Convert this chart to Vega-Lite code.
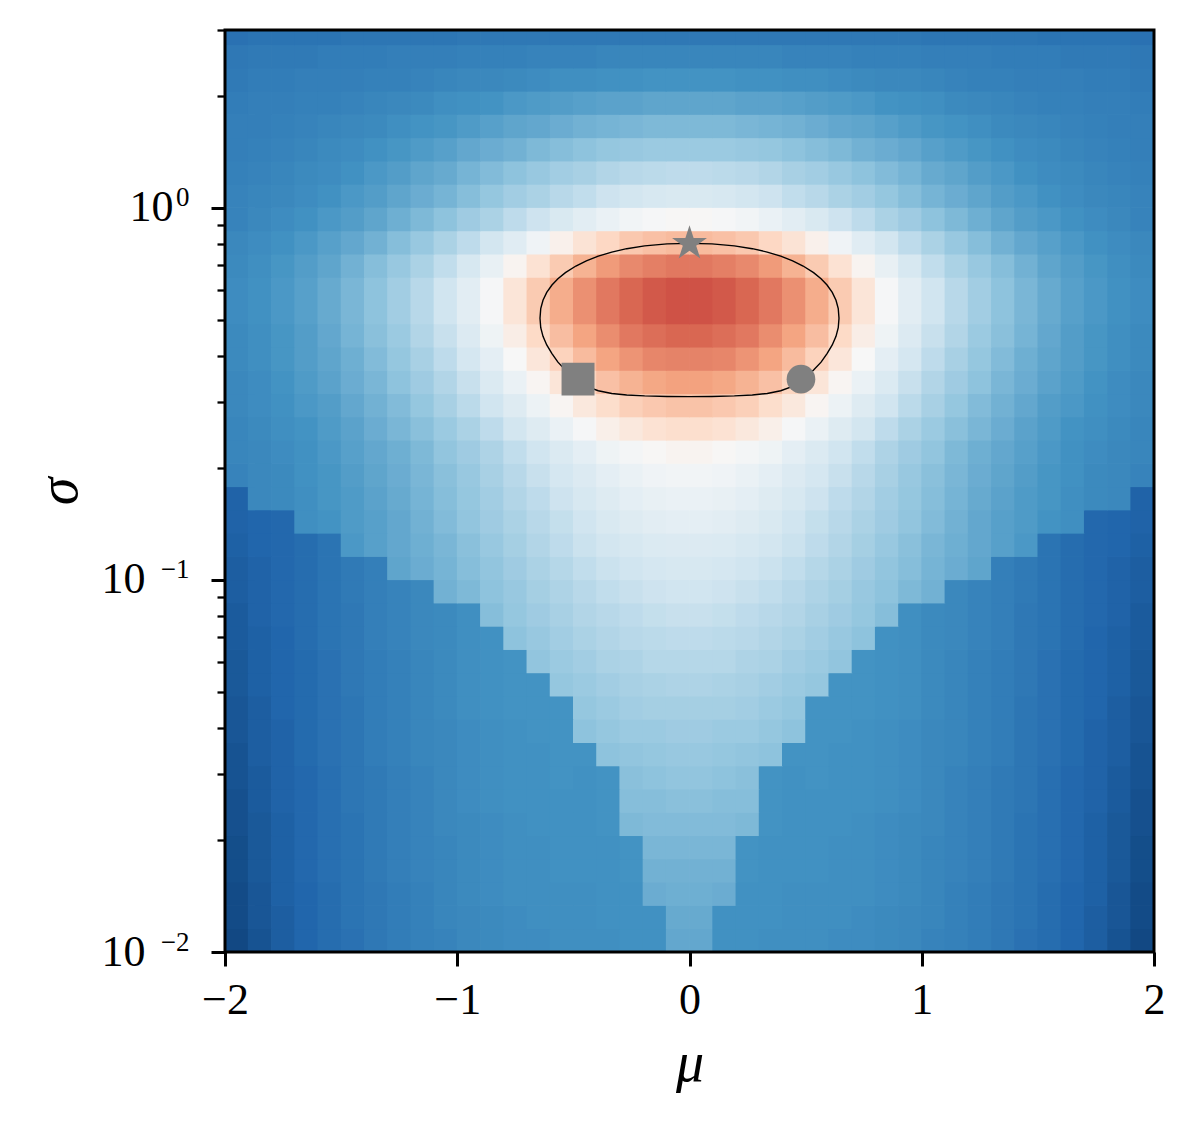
{
"$schema": "https://vega.github.io/schema/vega-lite/v6.json",
"width": 929, "height": 922,
"autosize": "none",
"padding": {"left": 225, "top": 30, "right": 40, "bottom": 173},
"background": "white",
"config": {"view": {"stroke": null}, "font": "Liberation Serif"},
"resolve": {"axis": {"x": "independent", "y": "independent"}},
"datasets": {
"contour": [
{"o":0,"m":0,"s":0.8012},{"o":1,"m":0.0966,"s":0.7988},{"o":2,"m":0.1931,"s":0.7892},{"o":3,"m":0.2704,"s":0.7755},{"o":4,"m":0.3347,"s":0.7595},{"o":5,"m":0.3927,"s":0.7406},{"o":6,"m":0.4442,"s":0.7195},{"o":7,"m":0.4892,"s":0.6966},{"o":8,"m":0.5343,"s":0.6686},{"o":9,"m":0.5665,"s":0.6436},{"o":10,"m":0.5922,"s":0.6194},{"o":11,"m":0.6147,"s":0.5916},{"o":12,"m":0.6308,"s":0.5635},{"o":13,"m":0.6405,"s":0.5355},{"o":14,"m":0.6437,"s":0.5041},
{"o":15,"m":0.6405,"s":0.4756},{"o":16,"m":0.6308,"s":0.4509},{"o":17,"m":0.6147,"s":0.4276},{"o":18,"m":0.5922,"s":0.4054},{"o":19,"m":0.5665,"s":0.3843},{"o":20,"m":0.5343,"s":0.3661},{"o":21,"m":0.4892,"s":0.3438},{"o":22,"m":0.4442,"s":0.3307},{"o":23,"m":0.3927,"s":0.3220},{"o":24,"m":0.3347,"s":0.3166},{"o":25,"m":0.2704,"s":0.3138},{"o":26,"m":0.1931,"s":0.3120},{"o":27,"m":0.0966,"s":0.3109},{"o":28,"m":0,"s":0.3105},
{"o":29,"m":-0.0966,"s":0.3109},{"o":30,"m":-0.1931,"s":0.3120},{"o":31,"m":-0.2704,"s":0.3138},{"o":32,"m":-0.3347,"s":0.3166},{"o":33,"m":-0.3927,"s":0.3220},{"o":34,"m":-0.4442,"s":0.3307},{"o":35,"m":-0.4892,"s":0.3438},{"o":36,"m":-0.5343,"s":0.3661},{"o":37,"m":-0.5665,"s":0.3843},{"o":38,"m":-0.5922,"s":0.4054},{"o":39,"m":-0.6147,"s":0.4276},{"o":40,"m":-0.6308,"s":0.4509},{"o":41,"m":-0.6405,"s":0.4756},{"o":42,"m":-0.6437,"s":0.5041},
{"o":43,"m":-0.6405,"s":0.5355},{"o":44,"m":-0.6308,"s":0.5635},{"o":45,"m":-0.6147,"s":0.5916},{"o":46,"m":-0.5922,"s":0.6194},{"o":47,"m":-0.5665,"s":0.6436},{"o":48,"m":-0.5343,"s":0.6686},{"o":49,"m":-0.4892,"s":0.6966},{"o":50,"m":-0.4442,"s":0.7195},{"o":51,"m":-0.3927,"s":0.7406},{"o":52,"m":-0.3347,"s":0.7595},{"o":53,"m":-0.2704,"s":0.7755},{"o":54,"m":-0.1931,"s":0.7892},{"o":55,"m":-0.0966,"s":0.7988},{"o":56,"m":0,"s":0.8012}
],
"markers": [
{"marker":"star","m":0,"s":0.80},{"marker":"square","m":-0.48,"s":0.346},{"marker":"circle","m":0.48,"s":0.346}
],
"grid": [
{"m":-1.95,"s":0.01075,"v":-0.91},{"m":-1.85,"s":0.01075,"v":-0.87},{"m":-1.75,"s":0.01075,"v":-0.83},{"m":-1.65,"s":0.01075,"v":-0.80},{"m":-1.55,"s":0.01075,"v":-0.77},{"m":-1.45,"s":0.01075,"v":-0.75},{"m":-1.35,"s":0.01075,"v":-0.72},{"m":-1.25,"s":0.01075,"v":-0.70},{"m":-1.15,"s":0.01075,"v":-0.68},{"m":-1.05,"s":0.01075,"v":-0.67},{"m":-0.95,"s":0.01075,"v":-0.65},{"m":-0.85,"s":0.01075,"v":-0.64},{"m":-0.75,"s":0.01075,"v":-0.63},{"m":-0.65,"s":0.01075,"v":-0.63},{"m":-0.55,"s":0.01075,"v":-0.62},{"m":-0.45,"s":0.01075,"v":-0.62},{"m":-0.35,"s":0.01075,"v":-0.62},{"m":-0.25,"s":0.01075,"v":-0.61},{"m":-0.15,"s":0.01075,"v":-0.61},{"m":-0.05,"s":0.01075,"v":-0.52},{"m":0.05,"s":0.01075,"v":-0.52},{"m":0.15,"s":0.01075,"v":-0.61},{"m":0.25,"s":0.01075,"v":-0.61},{"m":0.35,"s":0.01075,"v":-0.62},{"m":0.45,"s":0.01075,"v":-0.62},{"m":0.55,"s":0.01075,"v":-0.62},{"m":0.65,"s":0.01075,"v":-0.63},{"m":0.75,"s":0.01075,"v":-0.63},{"m":0.85,"s":0.01075,"v":-0.64},{"m":0.95,"s":0.01075,"v":-0.65},{"m":1.05,"s":0.01075,"v":-0.67},{"m":1.15,"s":0.01075,"v":-0.68},{"m":1.25,"s":0.01075,"v":-0.70},{"m":1.35,"s":0.01075,"v":-0.72},{"m":1.45,"s":0.01075,"v":-0.75},{"m":1.55,"s":0.01075,"v":-0.77},{"m":1.65,"s":0.01075,"v":-0.80},{"m":1.75,"s":0.01075,"v":-0.83},{"m":1.85,"s":0.01075,"v":-0.87},{"m":1.95,"s":0.01075,"v":-0.91},
{"m":-1.95,"s":0.01241,"v":-0.90},{"m":-1.85,"s":0.01241,"v":-0.86},{"m":-1.75,"s":0.01241,"v":-0.83},{"m":-1.65,"s":0.01241,"v":-0.80},{"m":-1.55,"s":0.01241,"v":-0.77},{"m":-1.45,"s":0.01241,"v":-0.74},{"m":-1.35,"s":0.01241,"v":-0.72},{"m":-1.25,"s":0.01241,"v":-0.70},{"m":-1.15,"s":0.01241,"v":-0.68},{"m":-1.05,"s":0.01241,"v":-0.66},{"m":-0.95,"s":0.01241,"v":-0.65},{"m":-0.85,"s":0.01241,"v":-0.64},{"m":-0.75,"s":0.01241,"v":-0.63},{"m":-0.65,"s":0.01241,"v":-0.62},{"m":-0.55,"s":0.01241,"v":-0.62},{"m":-0.45,"s":0.01241,"v":-0.62},{"m":-0.35,"s":0.01241,"v":-0.61},{"m":-0.25,"s":0.01241,"v":-0.61},{"m":-0.15,"s":0.01241,"v":-0.61},{"m":-0.05,"s":0.01241,"v":-0.51},{"m":0.05,"s":0.01241,"v":-0.51},{"m":0.15,"s":0.01241,"v":-0.61},{"m":0.25,"s":0.01241,"v":-0.61},{"m":0.35,"s":0.01241,"v":-0.61},{"m":0.45,"s":0.01241,"v":-0.62},{"m":0.55,"s":0.01241,"v":-0.62},{"m":0.65,"s":0.01241,"v":-0.62},{"m":0.75,"s":0.01241,"v":-0.63},{"m":0.85,"s":0.01241,"v":-0.64},{"m":0.95,"s":0.01241,"v":-0.65},{"m":1.05,"s":0.01241,"v":-0.66},{"m":1.15,"s":0.01241,"v":-0.68},{"m":1.25,"s":0.01241,"v":-0.70},{"m":1.35,"s":0.01241,"v":-0.72},{"m":1.45,"s":0.01241,"v":-0.74},{"m":1.55,"s":0.01241,"v":-0.77},{"m":1.65,"s":0.01241,"v":-0.80},{"m":1.75,"s":0.01241,"v":-0.83},{"m":1.85,"s":0.01241,"v":-0.86},{"m":1.95,"s":0.01241,"v":-0.90},
{"m":-1.95,"s":0.01433,"v":-0.90},{"m":-1.85,"s":0.01433,"v":-0.86},{"m":-1.75,"s":0.01433,"v":-0.82},{"m":-1.65,"s":0.01433,"v":-0.80},{"m":-1.55,"s":0.01433,"v":-0.77},{"m":-1.45,"s":0.01433,"v":-0.74},{"m":-1.35,"s":0.01433,"v":-0.72},{"m":-1.25,"s":0.01433,"v":-0.70},{"m":-1.15,"s":0.01433,"v":-0.68},{"m":-1.05,"s":0.01433,"v":-0.66},{"m":-0.95,"s":0.01433,"v":-0.64},{"m":-0.85,"s":0.01433,"v":-0.63},{"m":-0.75,"s":0.01433,"v":-0.62},{"m":-0.65,"s":0.01433,"v":-0.62},{"m":-0.55,"s":0.01433,"v":-0.62},{"m":-0.45,"s":0.01433,"v":-0.62},{"m":-0.35,"s":0.01433,"v":-0.61},{"m":-0.25,"s":0.01433,"v":-0.61},{"m":-0.15,"s":0.01433,"v":-0.50},{"m":-0.05,"s":0.01433,"v":-0.49},{"m":0.05,"s":0.01433,"v":-0.49},{"m":0.15,"s":0.01433,"v":-0.50},{"m":0.25,"s":0.01433,"v":-0.61},{"m":0.35,"s":0.01433,"v":-0.61},{"m":0.45,"s":0.01433,"v":-0.62},{"m":0.55,"s":0.01433,"v":-0.62},{"m":0.65,"s":0.01433,"v":-0.62},{"m":0.75,"s":0.01433,"v":-0.62},{"m":0.85,"s":0.01433,"v":-0.63},{"m":0.95,"s":0.01433,"v":-0.64},{"m":1.05,"s":0.01433,"v":-0.66},{"m":1.15,"s":0.01433,"v":-0.68},{"m":1.25,"s":0.01433,"v":-0.70},{"m":1.35,"s":0.01433,"v":-0.72},{"m":1.45,"s":0.01433,"v":-0.74},{"m":1.55,"s":0.01433,"v":-0.77},{"m":1.65,"s":0.01433,"v":-0.80},{"m":1.75,"s":0.01433,"v":-0.82},{"m":1.85,"s":0.01433,"v":-0.86},{"m":1.95,"s":0.01433,"v":-0.90},
{"m":-1.95,"s":0.01655,"v":-0.89},{"m":-1.85,"s":0.01655,"v":-0.85},{"m":-1.75,"s":0.01655,"v":-0.82},{"m":-1.65,"s":0.01655,"v":-0.79},{"m":-1.55,"s":0.01655,"v":-0.76},{"m":-1.45,"s":0.01655,"v":-0.74},{"m":-1.35,"s":0.01655,"v":-0.71},{"m":-1.25,"s":0.01655,"v":-0.69},{"m":-1.15,"s":0.01655,"v":-0.67},{"m":-1.05,"s":0.01655,"v":-0.66},{"m":-0.95,"s":0.01655,"v":-0.64},{"m":-0.85,"s":0.01655,"v":-0.63},{"m":-0.75,"s":0.01655,"v":-0.62},{"m":-0.65,"s":0.01655,"v":-0.62},{"m":-0.55,"s":0.01655,"v":-0.61},{"m":-0.45,"s":0.01655,"v":-0.61},{"m":-0.35,"s":0.01655,"v":-0.61},{"m":-0.25,"s":0.01655,"v":-0.60},{"m":-0.15,"s":0.01655,"v":-0.48},{"m":-0.05,"s":0.01655,"v":-0.48},{"m":0.05,"s":0.01655,"v":-0.48},{"m":0.15,"s":0.01655,"v":-0.48},{"m":0.25,"s":0.01655,"v":-0.60},{"m":0.35,"s":0.01655,"v":-0.61},{"m":0.45,"s":0.01655,"v":-0.61},{"m":0.55,"s":0.01655,"v":-0.61},{"m":0.65,"s":0.01655,"v":-0.62},{"m":0.75,"s":0.01655,"v":-0.62},{"m":0.85,"s":0.01655,"v":-0.63},{"m":0.95,"s":0.01655,"v":-0.64},{"m":1.05,"s":0.01655,"v":-0.66},{"m":1.15,"s":0.01655,"v":-0.67},{"m":1.25,"s":0.01655,"v":-0.69},{"m":1.35,"s":0.01655,"v":-0.71},{"m":1.45,"s":0.01655,"v":-0.74},{"m":1.55,"s":0.01655,"v":-0.76},{"m":1.65,"s":0.01655,"v":-0.79},{"m":1.75,"s":0.01655,"v":-0.82},{"m":1.85,"s":0.01655,"v":-0.85},{"m":1.95,"s":0.01655,"v":-0.89},
{"m":-1.95,"s":0.01911,"v":-0.89},{"m":-1.85,"s":0.01911,"v":-0.85},{"m":-1.75,"s":0.01911,"v":-0.82},{"m":-1.65,"s":0.01911,"v":-0.79},{"m":-1.55,"s":0.01911,"v":-0.76},{"m":-1.45,"s":0.01911,"v":-0.74},{"m":-1.35,"s":0.01911,"v":-0.71},{"m":-1.25,"s":0.01911,"v":-0.69},{"m":-1.15,"s":0.01911,"v":-0.67},{"m":-1.05,"s":0.01911,"v":-0.66},{"m":-0.95,"s":0.01911,"v":-0.64},{"m":-0.85,"s":0.01911,"v":-0.63},{"m":-0.75,"s":0.01911,"v":-0.62},{"m":-0.65,"s":0.01911,"v":-0.62},{"m":-0.55,"s":0.01911,"v":-0.61},{"m":-0.45,"s":0.01911,"v":-0.61},{"m":-0.35,"s":0.01911,"v":-0.61},{"m":-0.25,"s":0.01911,"v":-0.60},{"m":-0.15,"s":0.01911,"v":-0.46},{"m":-0.05,"s":0.01911,"v":-0.46},{"m":0.05,"s":0.01911,"v":-0.46},{"m":0.15,"s":0.01911,"v":-0.46},{"m":0.25,"s":0.01911,"v":-0.60},{"m":0.35,"s":0.01911,"v":-0.61},{"m":0.45,"s":0.01911,"v":-0.61},{"m":0.55,"s":0.01911,"v":-0.61},{"m":0.65,"s":0.01911,"v":-0.62},{"m":0.75,"s":0.01911,"v":-0.62},{"m":0.85,"s":0.01911,"v":-0.63},{"m":0.95,"s":0.01911,"v":-0.64},{"m":1.05,"s":0.01911,"v":-0.66},{"m":1.15,"s":0.01911,"v":-0.67},{"m":1.25,"s":0.01911,"v":-0.69},{"m":1.35,"s":0.01911,"v":-0.71},{"m":1.45,"s":0.01911,"v":-0.74},{"m":1.55,"s":0.01911,"v":-0.76},{"m":1.65,"s":0.01911,"v":-0.79},{"m":1.75,"s":0.01911,"v":-0.82},{"m":1.85,"s":0.01911,"v":-0.85},{"m":1.95,"s":0.01911,"v":-0.89},
{"m":-1.95,"s":0.02207,"v":-0.88},{"m":-1.85,"s":0.02207,"v":-0.85},{"m":-1.75,"s":0.02207,"v":-0.82},{"m":-1.65,"s":0.02207,"v":-0.79},{"m":-1.55,"s":0.02207,"v":-0.76},{"m":-1.45,"s":0.02207,"v":-0.74},{"m":-1.35,"s":0.02207,"v":-0.71},{"m":-1.25,"s":0.02207,"v":-0.69},{"m":-1.15,"s":0.02207,"v":-0.67},{"m":-1.05,"s":0.02207,"v":-0.65},{"m":-0.95,"s":0.02207,"v":-0.64},{"m":-0.85,"s":0.02207,"v":-0.63},{"m":-0.75,"s":0.02207,"v":-0.62},{"m":-0.65,"s":0.02207,"v":-0.61},{"m":-0.55,"s":0.02207,"v":-0.61},{"m":-0.45,"s":0.02207,"v":-0.61},{"m":-0.35,"s":0.02207,"v":-0.60},{"m":-0.25,"s":0.02207,"v":-0.45},{"m":-0.15,"s":0.02207,"v":-0.44},{"m":-0.05,"s":0.02207,"v":-0.44},{"m":0.05,"s":0.02207,"v":-0.44},{"m":0.15,"s":0.02207,"v":-0.44},{"m":0.25,"s":0.02207,"v":-0.45},{"m":0.35,"s":0.02207,"v":-0.60},{"m":0.45,"s":0.02207,"v":-0.61},{"m":0.55,"s":0.02207,"v":-0.61},{"m":0.65,"s":0.02207,"v":-0.61},{"m":0.75,"s":0.02207,"v":-0.62},{"m":0.85,"s":0.02207,"v":-0.63},{"m":0.95,"s":0.02207,"v":-0.64},{"m":1.05,"s":0.02207,"v":-0.65},{"m":1.15,"s":0.02207,"v":-0.67},{"m":1.25,"s":0.02207,"v":-0.69},{"m":1.35,"s":0.02207,"v":-0.71},{"m":1.45,"s":0.02207,"v":-0.74},{"m":1.55,"s":0.02207,"v":-0.76},{"m":1.65,"s":0.02207,"v":-0.79},{"m":1.75,"s":0.02207,"v":-0.82},{"m":1.85,"s":0.02207,"v":-0.85},{"m":1.95,"s":0.02207,"v":-0.88},
{"m":-1.95,"s":0.02548,"v":-0.88},{"m":-1.85,"s":0.02548,"v":-0.84},{"m":-1.75,"s":0.02548,"v":-0.81},{"m":-1.65,"s":0.02548,"v":-0.79},{"m":-1.55,"s":0.02548,"v":-0.76},{"m":-1.45,"s":0.02548,"v":-0.73},{"m":-1.35,"s":0.02548,"v":-0.71},{"m":-1.25,"s":0.02548,"v":-0.69},{"m":-1.15,"s":0.02548,"v":-0.67},{"m":-1.05,"s":0.02548,"v":-0.65},{"m":-0.95,"s":0.02548,"v":-0.63},{"m":-0.85,"s":0.02548,"v":-0.62},{"m":-0.75,"s":0.02548,"v":-0.61},{"m":-0.65,"s":0.02548,"v":-0.61},{"m":-0.55,"s":0.02548,"v":-0.61},{"m":-0.45,"s":0.02548,"v":-0.61},{"m":-0.35,"s":0.02548,"v":-0.60},{"m":-0.25,"s":0.02548,"v":-0.43},{"m":-0.15,"s":0.02548,"v":-0.43},{"m":-0.05,"s":0.02548,"v":-0.42},{"m":0.05,"s":0.02548,"v":-0.42},{"m":0.15,"s":0.02548,"v":-0.43},{"m":0.25,"s":0.02548,"v":-0.43},{"m":0.35,"s":0.02548,"v":-0.60},{"m":0.45,"s":0.02548,"v":-0.61},{"m":0.55,"s":0.02548,"v":-0.61},{"m":0.65,"s":0.02548,"v":-0.61},{"m":0.75,"s":0.02548,"v":-0.61},{"m":0.85,"s":0.02548,"v":-0.62},{"m":0.95,"s":0.02548,"v":-0.63},{"m":1.05,"s":0.02548,"v":-0.65},{"m":1.15,"s":0.02548,"v":-0.67},{"m":1.25,"s":0.02548,"v":-0.69},{"m":1.35,"s":0.02548,"v":-0.71},{"m":1.45,"s":0.02548,"v":-0.73},{"m":1.55,"s":0.02548,"v":-0.76},{"m":1.65,"s":0.02548,"v":-0.79},{"m":1.75,"s":0.02548,"v":-0.81},{"m":1.85,"s":0.02548,"v":-0.84},{"m":1.95,"s":0.02548,"v":-0.88},
{"m":-1.95,"s":0.02943,"v":-0.87},{"m":-1.85,"s":0.02943,"v":-0.84},{"m":-1.75,"s":0.02943,"v":-0.81},{"m":-1.65,"s":0.02943,"v":-0.79},{"m":-1.55,"s":0.02943,"v":-0.76},{"m":-1.45,"s":0.02943,"v":-0.73},{"m":-1.35,"s":0.02943,"v":-0.71},{"m":-1.25,"s":0.02943,"v":-0.69},{"m":-1.15,"s":0.02943,"v":-0.67},{"m":-1.05,"s":0.02943,"v":-0.65},{"m":-0.95,"s":0.02943,"v":-0.63},{"m":-0.85,"s":0.02943,"v":-0.62},{"m":-0.75,"s":0.02943,"v":-0.61},{"m":-0.65,"s":0.02943,"v":-0.61},{"m":-0.55,"s":0.02943,"v":-0.60},{"m":-0.45,"s":0.02943,"v":-0.61},{"m":-0.35,"s":0.02943,"v":-0.60},{"m":-0.25,"s":0.02943,"v":-0.42},{"m":-0.15,"s":0.02943,"v":-0.41},{"m":-0.05,"s":0.02943,"v":-0.40},{"m":0.05,"s":0.02943,"v":-0.40},{"m":0.15,"s":0.02943,"v":-0.41},{"m":0.25,"s":0.02943,"v":-0.42},{"m":0.35,"s":0.02943,"v":-0.60},{"m":0.45,"s":0.02943,"v":-0.61},{"m":0.55,"s":0.02943,"v":-0.60},{"m":0.65,"s":0.02943,"v":-0.61},{"m":0.75,"s":0.02943,"v":-0.61},{"m":0.85,"s":0.02943,"v":-0.62},{"m":0.95,"s":0.02943,"v":-0.63},{"m":1.05,"s":0.02943,"v":-0.65},{"m":1.15,"s":0.02943,"v":-0.67},{"m":1.25,"s":0.02943,"v":-0.69},{"m":1.35,"s":0.02943,"v":-0.71},{"m":1.45,"s":0.02943,"v":-0.73},{"m":1.55,"s":0.02943,"v":-0.76},{"m":1.65,"s":0.02943,"v":-0.79},{"m":1.75,"s":0.02943,"v":-0.81},{"m":1.85,"s":0.02943,"v":-0.84},{"m":1.95,"s":0.02943,"v":-0.87},
{"m":-1.95,"s":0.03398,"v":-0.87},{"m":-1.85,"s":0.03398,"v":-0.83},{"m":-1.75,"s":0.03398,"v":-0.81},{"m":-1.65,"s":0.03398,"v":-0.78},{"m":-1.55,"s":0.03398,"v":-0.75},{"m":-1.45,"s":0.03398,"v":-0.73},{"m":-1.35,"s":0.03398,"v":-0.70},{"m":-1.25,"s":0.03398,"v":-0.68},{"m":-1.15,"s":0.03398,"v":-0.66},{"m":-1.05,"s":0.03398,"v":-0.65},{"m":-0.95,"s":0.03398,"v":-0.63},{"m":-0.85,"s":0.03398,"v":-0.62},{"m":-0.75,"s":0.03398,"v":-0.61},{"m":-0.65,"s":0.03398,"v":-0.61},{"m":-0.55,"s":0.03398,"v":-0.60},{"m":-0.45,"s":0.03398,"v":-0.60},{"m":-0.35,"s":0.03398,"v":-0.41},{"m":-0.25,"s":0.03398,"v":-0.40},{"m":-0.15,"s":0.03398,"v":-0.39},{"m":-0.05,"s":0.03398,"v":-0.38},{"m":0.05,"s":0.03398,"v":-0.38},{"m":0.15,"s":0.03398,"v":-0.39},{"m":0.25,"s":0.03398,"v":-0.40},{"m":0.35,"s":0.03398,"v":-0.41},{"m":0.45,"s":0.03398,"v":-0.60},{"m":0.55,"s":0.03398,"v":-0.60},{"m":0.65,"s":0.03398,"v":-0.61},{"m":0.75,"s":0.03398,"v":-0.61},{"m":0.85,"s":0.03398,"v":-0.62},{"m":0.95,"s":0.03398,"v":-0.63},{"m":1.05,"s":0.03398,"v":-0.65},{"m":1.15,"s":0.03398,"v":-0.66},{"m":1.25,"s":0.03398,"v":-0.68},{"m":1.35,"s":0.03398,"v":-0.70},{"m":1.45,"s":0.03398,"v":-0.73},{"m":1.55,"s":0.03398,"v":-0.75},{"m":1.65,"s":0.03398,"v":-0.78},{"m":1.75,"s":0.03398,"v":-0.81},{"m":1.85,"s":0.03398,"v":-0.83},{"m":1.95,"s":0.03398,"v":-0.87},
{"m":-1.95,"s":0.03924,"v":-0.86},{"m":-1.85,"s":0.03924,"v":-0.83},{"m":-1.75,"s":0.03924,"v":-0.81},{"m":-1.65,"s":0.03924,"v":-0.78},{"m":-1.55,"s":0.03924,"v":-0.75},{"m":-1.45,"s":0.03924,"v":-0.73},{"m":-1.35,"s":0.03924,"v":-0.70},{"m":-1.25,"s":0.03924,"v":-0.68},{"m":-1.15,"s":0.03924,"v":-0.66},{"m":-1.05,"s":0.03924,"v":-0.65},{"m":-0.95,"s":0.03924,"v":-0.63},{"m":-0.85,"s":0.03924,"v":-0.62},{"m":-0.75,"s":0.03924,"v":-0.61},{"m":-0.65,"s":0.03924,"v":-0.60},{"m":-0.55,"s":0.03924,"v":-0.60},{"m":-0.45,"s":0.03924,"v":-0.41},{"m":-0.35,"s":0.03924,"v":-0.39},{"m":-0.25,"s":0.03924,"v":-0.37},{"m":-0.15,"s":0.03924,"v":-0.37},{"m":-0.05,"s":0.03924,"v":-0.36},{"m":0.05,"s":0.03924,"v":-0.36},{"m":0.15,"s":0.03924,"v":-0.37},{"m":0.25,"s":0.03924,"v":-0.37},{"m":0.35,"s":0.03924,"v":-0.39},{"m":0.45,"s":0.03924,"v":-0.41},{"m":0.55,"s":0.03924,"v":-0.60},{"m":0.65,"s":0.03924,"v":-0.60},{"m":0.75,"s":0.03924,"v":-0.61},{"m":0.85,"s":0.03924,"v":-0.62},{"m":0.95,"s":0.03924,"v":-0.63},{"m":1.05,"s":0.03924,"v":-0.65},{"m":1.15,"s":0.03924,"v":-0.66},{"m":1.25,"s":0.03924,"v":-0.68},{"m":1.35,"s":0.03924,"v":-0.70},{"m":1.45,"s":0.03924,"v":-0.73},{"m":1.55,"s":0.03924,"v":-0.75},{"m":1.65,"s":0.03924,"v":-0.78},{"m":1.75,"s":0.03924,"v":-0.81},{"m":1.85,"s":0.03924,"v":-0.83},{"m":1.95,"s":0.03924,"v":-0.86},
{"m":-1.95,"s":0.04532,"v":-0.86},{"m":-1.85,"s":0.04532,"v":-0.83},{"m":-1.75,"s":0.04532,"v":-0.80},{"m":-1.65,"s":0.04532,"v":-0.78},{"m":-1.55,"s":0.04532,"v":-0.75},{"m":-1.45,"s":0.04532,"v":-0.73},{"m":-1.35,"s":0.04532,"v":-0.70},{"m":-1.25,"s":0.04532,"v":-0.68},{"m":-1.15,"s":0.04532,"v":-0.66},{"m":-1.05,"s":0.04532,"v":-0.64},{"m":-0.95,"s":0.04532,"v":-0.62},{"m":-0.85,"s":0.04532,"v":-0.61},{"m":-0.75,"s":0.04532,"v":-0.60},{"m":-0.65,"s":0.04532,"v":-0.60},{"m":-0.55,"s":0.04532,"v":-0.60},{"m":-0.45,"s":0.04532,"v":-0.39},{"m":-0.35,"s":0.04532,"v":-0.37},{"m":-0.25,"s":0.04532,"v":-0.35},{"m":-0.15,"s":0.04532,"v":-0.34},{"m":-0.05,"s":0.04532,"v":-0.34},{"m":0.05,"s":0.04532,"v":-0.34},{"m":0.15,"s":0.04532,"v":-0.34},{"m":0.25,"s":0.04532,"v":-0.35},{"m":0.35,"s":0.04532,"v":-0.37},{"m":0.45,"s":0.04532,"v":-0.39},{"m":0.55,"s":0.04532,"v":-0.60},{"m":0.65,"s":0.04532,"v":-0.60},{"m":0.75,"s":0.04532,"v":-0.60},{"m":0.85,"s":0.04532,"v":-0.61},{"m":0.95,"s":0.04532,"v":-0.62},{"m":1.05,"s":0.04532,"v":-0.64},{"m":1.15,"s":0.04532,"v":-0.66},{"m":1.25,"s":0.04532,"v":-0.68},{"m":1.35,"s":0.04532,"v":-0.70},{"m":1.45,"s":0.04532,"v":-0.73},{"m":1.55,"s":0.04532,"v":-0.75},{"m":1.65,"s":0.04532,"v":-0.78},{"m":1.75,"s":0.04532,"v":-0.80},{"m":1.85,"s":0.04532,"v":-0.83},{"m":1.95,"s":0.04532,"v":-0.86},
{"m":-1.95,"s":0.05233,"v":-0.85},{"m":-1.85,"s":0.05233,"v":-0.82},{"m":-1.75,"s":0.05233,"v":-0.80},{"m":-1.65,"s":0.05233,"v":-0.78},{"m":-1.55,"s":0.05233,"v":-0.75},{"m":-1.45,"s":0.05233,"v":-0.72},{"m":-1.35,"s":0.05233,"v":-0.70},{"m":-1.25,"s":0.05233,"v":-0.68},{"m":-1.15,"s":0.05233,"v":-0.66},{"m":-1.05,"s":0.05233,"v":-0.64},{"m":-0.95,"s":0.05233,"v":-0.62},{"m":-0.85,"s":0.05233,"v":-0.61},{"m":-0.75,"s":0.05233,"v":-0.60},{"m":-0.65,"s":0.05233,"v":-0.60},{"m":-0.55,"s":0.05233,"v":-0.39},{"m":-0.45,"s":0.05233,"v":-0.37},{"m":-0.35,"s":0.05233,"v":-0.35},{"m":-0.25,"s":0.05233,"v":-0.33},{"m":-0.15,"s":0.05233,"v":-0.32},{"m":-0.05,"s":0.05233,"v":-0.31},{"m":0.05,"s":0.05233,"v":-0.31},{"m":0.15,"s":0.05233,"v":-0.32},{"m":0.25,"s":0.05233,"v":-0.33},{"m":0.35,"s":0.05233,"v":-0.35},{"m":0.45,"s":0.05233,"v":-0.37},{"m":0.55,"s":0.05233,"v":-0.39},{"m":0.65,"s":0.05233,"v":-0.60},{"m":0.75,"s":0.05233,"v":-0.60},{"m":0.85,"s":0.05233,"v":-0.61},{"m":0.95,"s":0.05233,"v":-0.62},{"m":1.05,"s":0.05233,"v":-0.64},{"m":1.15,"s":0.05233,"v":-0.66},{"m":1.25,"s":0.05233,"v":-0.68},{"m":1.35,"s":0.05233,"v":-0.70},{"m":1.45,"s":0.05233,"v":-0.72},{"m":1.55,"s":0.05233,"v":-0.75},{"m":1.65,"s":0.05233,"v":-0.78},{"m":1.75,"s":0.05233,"v":-0.80},{"m":1.85,"s":0.05233,"v":-0.82},{"m":1.95,"s":0.05233,"v":-0.85},
{"m":-1.95,"s":0.06043,"v":-0.85},{"m":-1.85,"s":0.06043,"v":-0.82},{"m":-1.75,"s":0.06043,"v":-0.80},{"m":-1.65,"s":0.06043,"v":-0.78},{"m":-1.55,"s":0.06043,"v":-0.75},{"m":-1.45,"s":0.06043,"v":-0.72},{"m":-1.35,"s":0.06043,"v":-0.70},{"m":-1.25,"s":0.06043,"v":-0.68},{"m":-1.15,"s":0.06043,"v":-0.66},{"m":-1.05,"s":0.06043,"v":-0.64},{"m":-0.95,"s":0.06043,"v":-0.62},{"m":-0.85,"s":0.06043,"v":-0.61},{"m":-0.75,"s":0.06043,"v":-0.60},{"m":-0.65,"s":0.06043,"v":-0.40},{"m":-0.55,"s":0.06043,"v":-0.37},{"m":-0.45,"s":0.06043,"v":-0.35},{"m":-0.35,"s":0.06043,"v":-0.32},{"m":-0.25,"s":0.06043,"v":-0.31},{"m":-0.15,"s":0.06043,"v":-0.29},{"m":-0.05,"s":0.06043,"v":-0.29},{"m":0.05,"s":0.06043,"v":-0.29},{"m":0.15,"s":0.06043,"v":-0.29},{"m":0.25,"s":0.06043,"v":-0.31},{"m":0.35,"s":0.06043,"v":-0.32},{"m":0.45,"s":0.06043,"v":-0.35},{"m":0.55,"s":0.06043,"v":-0.37},{"m":0.65,"s":0.06043,"v":-0.40},{"m":0.75,"s":0.06043,"v":-0.60},{"m":0.85,"s":0.06043,"v":-0.61},{"m":0.95,"s":0.06043,"v":-0.62},{"m":1.05,"s":0.06043,"v":-0.64},{"m":1.15,"s":0.06043,"v":-0.66},{"m":1.25,"s":0.06043,"v":-0.68},{"m":1.35,"s":0.06043,"v":-0.70},{"m":1.45,"s":0.06043,"v":-0.72},{"m":1.55,"s":0.06043,"v":-0.75},{"m":1.65,"s":0.06043,"v":-0.78},{"m":1.75,"s":0.06043,"v":-0.80},{"m":1.85,"s":0.06043,"v":-0.82},{"m":1.95,"s":0.06043,"v":-0.85},
{"m":-1.95,"s":0.06978,"v":-0.84},{"m":-1.85,"s":0.06978,"v":-0.82},{"m":-1.75,"s":0.06978,"v":-0.80},{"m":-1.65,"s":0.06978,"v":-0.77},{"m":-1.55,"s":0.06978,"v":-0.74},{"m":-1.45,"s":0.06978,"v":-0.72},{"m":-1.35,"s":0.06978,"v":-0.69},{"m":-1.25,"s":0.06978,"v":-0.67},{"m":-1.15,"s":0.06978,"v":-0.65},{"m":-1.05,"s":0.06978,"v":-0.64},{"m":-0.95,"s":0.06978,"v":-0.62},{"m":-0.85,"s":0.06978,"v":-0.61},{"m":-0.75,"s":0.06978,"v":-0.41},{"m":-0.65,"s":0.06978,"v":-0.38},{"m":-0.55,"s":0.06978,"v":-0.35},{"m":-0.45,"s":0.06978,"v":-0.32},{"m":-0.35,"s":0.06978,"v":-0.30},{"m":-0.25,"s":0.06978,"v":-0.28},{"m":-0.15,"s":0.06978,"v":-0.27},{"m":-0.05,"s":0.06978,"v":-0.26},{"m":0.05,"s":0.06978,"v":-0.26},{"m":0.15,"s":0.06978,"v":-0.27},{"m":0.25,"s":0.06978,"v":-0.28},{"m":0.35,"s":0.06978,"v":-0.30},{"m":0.45,"s":0.06978,"v":-0.32},{"m":0.55,"s":0.06978,"v":-0.35},{"m":0.65,"s":0.06978,"v":-0.38},{"m":0.75,"s":0.06978,"v":-0.41},{"m":0.85,"s":0.06978,"v":-0.61},{"m":0.95,"s":0.06978,"v":-0.62},{"m":1.05,"s":0.06978,"v":-0.64},{"m":1.15,"s":0.06978,"v":-0.65},{"m":1.25,"s":0.06978,"v":-0.67},{"m":1.35,"s":0.06978,"v":-0.69},{"m":1.45,"s":0.06978,"v":-0.72},{"m":1.55,"s":0.06978,"v":-0.74},{"m":1.65,"s":0.06978,"v":-0.77},{"m":1.75,"s":0.06978,"v":-0.80},{"m":1.85,"s":0.06978,"v":-0.82},{"m":1.95,"s":0.06978,"v":-0.84},
{"m":-1.95,"s":0.08058,"v":-0.84},{"m":-1.85,"s":0.08058,"v":-0.81},{"m":-1.75,"s":0.08058,"v":-0.79},{"m":-1.65,"s":0.08058,"v":-0.77},{"m":-1.55,"s":0.08058,"v":-0.74},{"m":-1.45,"s":0.08058,"v":-0.72},{"m":-1.35,"s":0.08058,"v":-0.69},{"m":-1.25,"s":0.08058,"v":-0.67},{"m":-1.15,"s":0.08058,"v":-0.65},{"m":-1.05,"s":0.08058,"v":-0.64},{"m":-0.95,"s":0.08058,"v":-0.62},{"m":-0.85,"s":0.08058,"v":-0.43},{"m":-0.75,"s":0.08058,"v":-0.39},{"m":-0.65,"s":0.08058,"v":-0.36},{"m":-0.55,"s":0.08058,"v":-0.33},{"m":-0.45,"s":0.08058,"v":-0.30},{"m":-0.35,"s":0.08058,"v":-0.28},{"m":-0.25,"s":0.08058,"v":-0.26},{"m":-0.15,"s":0.08058,"v":-0.24},{"m":-0.05,"s":0.08058,"v":-0.23},{"m":0.05,"s":0.08058,"v":-0.23},{"m":0.15,"s":0.08058,"v":-0.24},{"m":0.25,"s":0.08058,"v":-0.26},{"m":0.35,"s":0.08058,"v":-0.28},{"m":0.45,"s":0.08058,"v":-0.30},{"m":0.55,"s":0.08058,"v":-0.33},{"m":0.65,"s":0.08058,"v":-0.36},{"m":0.75,"s":0.08058,"v":-0.39},{"m":0.85,"s":0.08058,"v":-0.43},{"m":0.95,"s":0.08058,"v":-0.62},{"m":1.05,"s":0.08058,"v":-0.64},{"m":1.15,"s":0.08058,"v":-0.65},{"m":1.25,"s":0.08058,"v":-0.67},{"m":1.35,"s":0.08058,"v":-0.69},{"m":1.45,"s":0.08058,"v":-0.72},{"m":1.55,"s":0.08058,"v":-0.74},{"m":1.65,"s":0.08058,"v":-0.77},{"m":1.75,"s":0.08058,"v":-0.79},{"m":1.85,"s":0.08058,"v":-0.81},{"m":1.95,"s":0.08058,"v":-0.84},
{"m":-1.95,"s":0.09306,"v":-0.83},{"m":-1.85,"s":0.09306,"v":-0.81},{"m":-1.75,"s":0.09306,"v":-0.79},{"m":-1.65,"s":0.09306,"v":-0.77},{"m":-1.55,"s":0.09306,"v":-0.74},{"m":-1.45,"s":0.09306,"v":-0.71},{"m":-1.35,"s":0.09306,"v":-0.69},{"m":-1.25,"s":0.09306,"v":-0.67},{"m":-1.15,"s":0.09306,"v":-0.65},{"m":-1.05,"s":0.09306,"v":-0.48},{"m":-0.95,"s":0.09306,"v":-0.45},{"m":-0.85,"s":0.09306,"v":-0.41},{"m":-0.75,"s":0.09306,"v":-0.38},{"m":-0.65,"s":0.09306,"v":-0.34},{"m":-0.55,"s":0.09306,"v":-0.31},{"m":-0.45,"s":0.09306,"v":-0.28},{"m":-0.35,"s":0.09306,"v":-0.25},{"m":-0.25,"s":0.09306,"v":-0.23},{"m":-0.15,"s":0.09306,"v":-0.21},{"m":-0.05,"s":0.09306,"v":-0.20},{"m":0.05,"s":0.09306,"v":-0.20},{"m":0.15,"s":0.09306,"v":-0.21},{"m":0.25,"s":0.09306,"v":-0.23},{"m":0.35,"s":0.09306,"v":-0.25},{"m":0.45,"s":0.09306,"v":-0.28},{"m":0.55,"s":0.09306,"v":-0.31},{"m":0.65,"s":0.09306,"v":-0.34},{"m":0.75,"s":0.09306,"v":-0.38},{"m":0.85,"s":0.09306,"v":-0.41},{"m":0.95,"s":0.09306,"v":-0.45},{"m":1.05,"s":0.09306,"v":-0.48},{"m":1.15,"s":0.09306,"v":-0.65},{"m":1.25,"s":0.09306,"v":-0.67},{"m":1.35,"s":0.09306,"v":-0.69},{"m":1.45,"s":0.09306,"v":-0.71},{"m":1.55,"s":0.09306,"v":-0.74},{"m":1.65,"s":0.09306,"v":-0.77},{"m":1.75,"s":0.09306,"v":-0.79},{"m":1.85,"s":0.09306,"v":-0.81},{"m":1.95,"s":0.09306,"v":-0.83},
{"m":-1.95,"s":0.1075,"v":-0.83},{"m":-1.85,"s":0.1075,"v":-0.81},{"m":-1.75,"s":0.1075,"v":-0.79},{"m":-1.65,"s":0.1075,"v":-0.77},{"m":-1.55,"s":0.1075,"v":-0.74},{"m":-1.45,"s":0.1075,"v":-0.71},{"m":-1.35,"s":0.1075,"v":-0.69},{"m":-1.25,"s":0.1075,"v":-0.53},{"m":-1.15,"s":0.1075,"v":-0.50},{"m":-1.05,"s":0.1075,"v":-0.47},{"m":-0.95,"s":0.1075,"v":-0.43},{"m":-0.85,"s":0.1075,"v":-0.40},{"m":-0.75,"s":0.1075,"v":-0.36},{"m":-0.65,"s":0.1075,"v":-0.32},{"m":-0.55,"s":0.1075,"v":-0.29},{"m":-0.45,"s":0.1075,"v":-0.25},{"m":-0.35,"s":0.1075,"v":-0.22},{"m":-0.25,"s":0.1075,"v":-0.20},{"m":-0.15,"s":0.1075,"v":-0.18},{"m":-0.05,"s":0.1075,"v":-0.17},{"m":0.05,"s":0.1075,"v":-0.17},{"m":0.15,"s":0.1075,"v":-0.18},{"m":0.25,"s":0.1075,"v":-0.20},{"m":0.35,"s":0.1075,"v":-0.22},{"m":0.45,"s":0.1075,"v":-0.25},{"m":0.55,"s":0.1075,"v":-0.29},{"m":0.65,"s":0.1075,"v":-0.32},{"m":0.75,"s":0.1075,"v":-0.36},{"m":0.85,"s":0.1075,"v":-0.40},{"m":0.95,"s":0.1075,"v":-0.43},{"m":1.05,"s":0.1075,"v":-0.47},{"m":1.15,"s":0.1075,"v":-0.50},{"m":1.25,"s":0.1075,"v":-0.53},{"m":1.35,"s":0.1075,"v":-0.69},{"m":1.45,"s":0.1075,"v":-0.71},{"m":1.55,"s":0.1075,"v":-0.74},{"m":1.65,"s":0.1075,"v":-0.77},{"m":1.75,"s":0.1075,"v":-0.79},{"m":1.85,"s":0.1075,"v":-0.81},{"m":1.95,"s":0.1075,"v":-0.83},
{"m":-1.95,"s":0.1241,"v":-0.82},{"m":-1.85,"s":0.1241,"v":-0.80},{"m":-1.75,"s":0.1241,"v":-0.79},{"m":-1.65,"s":0.1241,"v":-0.77},{"m":-1.55,"s":0.1241,"v":-0.74},{"m":-1.45,"s":0.1241,"v":-0.58},{"m":-1.35,"s":0.1241,"v":-0.55},{"m":-1.25,"s":0.1241,"v":-0.52},{"m":-1.15,"s":0.1241,"v":-0.49},{"m":-1.05,"s":0.1241,"v":-0.46},{"m":-0.95,"s":0.1241,"v":-0.42},{"m":-0.85,"s":0.1241,"v":-0.38},{"m":-0.75,"s":0.1241,"v":-0.34},{"m":-0.65,"s":0.1241,"v":-0.30},{"m":-0.55,"s":0.1241,"v":-0.26},{"m":-0.45,"s":0.1241,"v":-0.22},{"m":-0.35,"s":0.1241,"v":-0.19},{"m":-0.25,"s":0.1241,"v":-0.17},{"m":-0.15,"s":0.1241,"v":-0.15},{"m":-0.05,"s":0.1241,"v":-0.14},{"m":0.05,"s":0.1241,"v":-0.14},{"m":0.15,"s":0.1241,"v":-0.15},{"m":0.25,"s":0.1241,"v":-0.17},{"m":0.35,"s":0.1241,"v":-0.19},{"m":0.45,"s":0.1241,"v":-0.22},{"m":0.55,"s":0.1241,"v":-0.26},{"m":0.65,"s":0.1241,"v":-0.30},{"m":0.75,"s":0.1241,"v":-0.34},{"m":0.85,"s":0.1241,"v":-0.38},{"m":0.95,"s":0.1241,"v":-0.42},{"m":1.05,"s":0.1241,"v":-0.46},{"m":1.15,"s":0.1241,"v":-0.49},{"m":1.25,"s":0.1241,"v":-0.52},{"m":1.35,"s":0.1241,"v":-0.55},{"m":1.45,"s":0.1241,"v":-0.58},{"m":1.55,"s":0.1241,"v":-0.74},{"m":1.65,"s":0.1241,"v":-0.77},{"m":1.75,"s":0.1241,"v":-0.79},{"m":1.85,"s":0.1241,"v":-0.80},{"m":1.95,"s":0.1241,"v":-0.82},
{"m":-1.95,"s":0.1433,"v":-0.81},{"m":-1.85,"s":0.1433,"v":-0.80},{"m":-1.75,"s":0.1433,"v":-0.79},{"m":-1.65,"s":0.1433,"v":-0.62},{"m":-1.55,"s":0.1433,"v":-0.60},{"m":-1.45,"s":0.1433,"v":-0.57},{"m":-1.35,"s":0.1433,"v":-0.55},{"m":-1.25,"s":0.1433,"v":-0.52},{"m":-1.15,"s":0.1433,"v":-0.48},{"m":-1.05,"s":0.1433,"v":-0.44},{"m":-0.95,"s":0.1433,"v":-0.40},{"m":-0.85,"s":0.1433,"v":-0.36},{"m":-0.75,"s":0.1433,"v":-0.32},{"m":-0.65,"s":0.1433,"v":-0.28},{"m":-0.55,"s":0.1433,"v":-0.24},{"m":-0.45,"s":0.1433,"v":-0.20},{"m":-0.35,"s":0.1433,"v":-0.16},{"m":-0.25,"s":0.1433,"v":-0.13},{"m":-0.15,"s":0.1433,"v":-0.11},{"m":-0.05,"s":0.1433,"v":-0.10},{"m":0.05,"s":0.1433,"v":-0.10},{"m":0.15,"s":0.1433,"v":-0.11},{"m":0.25,"s":0.1433,"v":-0.13},{"m":0.35,"s":0.1433,"v":-0.16},{"m":0.45,"s":0.1433,"v":-0.20},{"m":0.55,"s":0.1433,"v":-0.24},{"m":0.65,"s":0.1433,"v":-0.28},{"m":0.75,"s":0.1433,"v":-0.32},{"m":0.85,"s":0.1433,"v":-0.36},{"m":0.95,"s":0.1433,"v":-0.40},{"m":1.05,"s":0.1433,"v":-0.44},{"m":1.15,"s":0.1433,"v":-0.48},{"m":1.25,"s":0.1433,"v":-0.52},{"m":1.35,"s":0.1433,"v":-0.55},{"m":1.45,"s":0.1433,"v":-0.57},{"m":1.55,"s":0.1433,"v":-0.60},{"m":1.65,"s":0.1433,"v":-0.62},{"m":1.75,"s":0.1433,"v":-0.79},{"m":1.85,"s":0.1433,"v":-0.80},{"m":1.95,"s":0.1433,"v":-0.81},
{"m":-1.95,"s":0.1655,"v":-0.81},{"m":-1.85,"s":0.1655,"v":-0.65},{"m":-1.75,"s":0.1655,"v":-0.64},{"m":-1.65,"s":0.1655,"v":-0.62},{"m":-1.55,"s":0.1655,"v":-0.59},{"m":-1.45,"s":0.1655,"v":-0.57},{"m":-1.35,"s":0.1655,"v":-0.54},{"m":-1.25,"s":0.1655,"v":-0.51},{"m":-1.15,"s":0.1655,"v":-0.47},{"m":-1.05,"s":0.1655,"v":-0.43},{"m":-0.95,"s":0.1655,"v":-0.39},{"m":-0.85,"s":0.1655,"v":-0.35},{"m":-0.75,"s":0.1655,"v":-0.30},{"m":-0.65,"s":0.1655,"v":-0.26},{"m":-0.55,"s":0.1655,"v":-0.21},{"m":-0.45,"s":0.1655,"v":-0.17},{"m":-0.35,"s":0.1655,"v":-0.13},{"m":-0.25,"s":0.1655,"v":-0.10},{"m":-0.15,"s":0.1655,"v":-0.08},{"m":-0.05,"s":0.1655,"v":-0.07},{"m":0.05,"s":0.1655,"v":-0.07},{"m":0.15,"s":0.1655,"v":-0.08},{"m":0.25,"s":0.1655,"v":-0.10},{"m":0.35,"s":0.1655,"v":-0.13},{"m":0.45,"s":0.1655,"v":-0.17},{"m":0.55,"s":0.1655,"v":-0.21},{"m":0.65,"s":0.1655,"v":-0.26},{"m":0.75,"s":0.1655,"v":-0.30},{"m":0.85,"s":0.1655,"v":-0.35},{"m":0.95,"s":0.1655,"v":-0.39},{"m":1.05,"s":0.1655,"v":-0.43},{"m":1.15,"s":0.1655,"v":-0.47},{"m":1.25,"s":0.1655,"v":-0.51},{"m":1.35,"s":0.1655,"v":-0.54},{"m":1.45,"s":0.1655,"v":-0.57},{"m":1.55,"s":0.1655,"v":-0.59},{"m":1.65,"s":0.1655,"v":-0.62},{"m":1.75,"s":0.1655,"v":-0.64},{"m":1.85,"s":0.1655,"v":-0.65},{"m":1.95,"s":0.1655,"v":-0.81},
{"m":-1.95,"s":0.1911,"v":-0.67},{"m":-1.85,"s":0.1911,"v":-0.65},{"m":-1.75,"s":0.1911,"v":-0.64},{"m":-1.65,"s":0.1911,"v":-0.61},{"m":-1.55,"s":0.1911,"v":-0.59},{"m":-1.45,"s":0.1911,"v":-0.56},{"m":-1.35,"s":0.1911,"v":-0.53},{"m":-1.25,"s":0.1911,"v":-0.50},{"m":-1.15,"s":0.1911,"v":-0.46},{"m":-1.05,"s":0.1911,"v":-0.42},{"m":-0.95,"s":0.1911,"v":-0.38},{"m":-0.85,"s":0.1911,"v":-0.33},{"m":-0.75,"s":0.1911,"v":-0.28},{"m":-0.65,"s":0.1911,"v":-0.23},{"m":-0.55,"s":0.1911,"v":-0.18},{"m":-0.45,"s":0.1911,"v":-0.14},{"m":-0.35,"s":0.1911,"v":-0.10},{"m":-0.25,"s":0.1911,"v":-0.07},{"m":-0.15,"s":0.1911,"v":-0.04},{"m":-0.05,"s":0.1911,"v":-0.03},{"m":0.05,"s":0.1911,"v":-0.03},{"m":0.15,"s":0.1911,"v":-0.04},{"m":0.25,"s":0.1911,"v":-0.07},{"m":0.35,"s":0.1911,"v":-0.10},{"m":0.45,"s":0.1911,"v":-0.14},{"m":0.55,"s":0.1911,"v":-0.18},{"m":0.65,"s":0.1911,"v":-0.23},{"m":0.75,"s":0.1911,"v":-0.28},{"m":0.85,"s":0.1911,"v":-0.33},{"m":0.95,"s":0.1911,"v":-0.38},{"m":1.05,"s":0.1911,"v":-0.42},{"m":1.15,"s":0.1911,"v":-0.46},{"m":1.25,"s":0.1911,"v":-0.50},{"m":1.35,"s":0.1911,"v":-0.53},{"m":1.45,"s":0.1911,"v":-0.56},{"m":1.55,"s":0.1911,"v":-0.59},{"m":1.65,"s":0.1911,"v":-0.61},{"m":1.75,"s":0.1911,"v":-0.64},{"m":1.85,"s":0.1911,"v":-0.65},{"m":1.95,"s":0.1911,"v":-0.67},
{"m":-1.95,"s":0.2207,"v":-0.66},{"m":-1.85,"s":0.2207,"v":-0.65},{"m":-1.75,"s":0.2207,"v":-0.63},{"m":-1.65,"s":0.2207,"v":-0.61},{"m":-1.55,"s":0.2207,"v":-0.58},{"m":-1.45,"s":0.2207,"v":-0.55},{"m":-1.35,"s":0.2207,"v":-0.52},{"m":-1.25,"s":0.2207,"v":-0.49},{"m":-1.15,"s":0.2207,"v":-0.45},{"m":-1.05,"s":0.2207,"v":-0.40},{"m":-0.95,"s":0.2207,"v":-0.36},{"m":-0.85,"s":0.2207,"v":-0.31},{"m":-0.75,"s":0.2207,"v":-0.25},{"m":-0.65,"s":0.2207,"v":-0.20},{"m":-0.55,"s":0.2207,"v":-0.15},{"m":-0.45,"s":0.2207,"v":-0.10},{"m":-0.35,"s":0.2207,"v":-0.05},{"m":-0.25,"s":0.2207,"v":-0.02},{"m":-0.15,"s":0.2207,"v":0.01},{"m":-0.05,"s":0.2207,"v":0.03},{"m":0.05,"s":0.2207,"v":0.03},{"m":0.15,"s":0.2207,"v":0.01},{"m":0.25,"s":0.2207,"v":-0.02},{"m":0.35,"s":0.2207,"v":-0.05},{"m":0.45,"s":0.2207,"v":-0.10},{"m":0.55,"s":0.2207,"v":-0.15},{"m":0.65,"s":0.2207,"v":-0.20},{"m":0.75,"s":0.2207,"v":-0.25},{"m":0.85,"s":0.2207,"v":-0.31},{"m":0.95,"s":0.2207,"v":-0.36},{"m":1.05,"s":0.2207,"v":-0.40},{"m":1.15,"s":0.2207,"v":-0.45},{"m":1.25,"s":0.2207,"v":-0.49},{"m":1.35,"s":0.2207,"v":-0.52},{"m":1.45,"s":0.2207,"v":-0.55},{"m":1.55,"s":0.2207,"v":-0.58},{"m":1.65,"s":0.2207,"v":-0.61},{"m":1.75,"s":0.2207,"v":-0.63},{"m":1.85,"s":0.2207,"v":-0.65},{"m":1.95,"s":0.2207,"v":-0.66},
{"m":-1.95,"s":0.2548,"v":-0.66},{"m":-1.85,"s":0.2548,"v":-0.64},{"m":-1.75,"s":0.2548,"v":-0.62},{"m":-1.65,"s":0.2548,"v":-0.60},{"m":-1.55,"s":0.2548,"v":-0.57},{"m":-1.45,"s":0.2548,"v":-0.54},{"m":-1.35,"s":0.2548,"v":-0.50},{"m":-1.25,"s":0.2548,"v":-0.46},{"m":-1.15,"s":0.2548,"v":-0.42},{"m":-1.05,"s":0.2548,"v":-0.37},{"m":-0.95,"s":0.2548,"v":-0.32},{"m":-0.85,"s":0.2548,"v":-0.26},{"m":-0.75,"s":0.2548,"v":-0.19},{"m":-0.65,"s":0.2548,"v":-0.13},{"m":-0.55,"s":0.2548,"v":-0.07},{"m":-0.45,"s":0.2548,"v":-0.01},{"m":-0.35,"s":0.2548,"v":0.06},{"m":-0.25,"s":0.2548,"v":0.11},{"m":-0.15,"s":0.2548,"v":0.15},{"m":-0.05,"s":0.2548,"v":0.17},{"m":0.05,"s":0.2548,"v":0.17},{"m":0.15,"s":0.2548,"v":0.15},{"m":0.25,"s":0.2548,"v":0.11},{"m":0.35,"s":0.2548,"v":0.06},{"m":0.45,"s":0.2548,"v":-0.01},{"m":0.55,"s":0.2548,"v":-0.07},{"m":0.65,"s":0.2548,"v":-0.13},{"m":0.75,"s":0.2548,"v":-0.19},{"m":0.85,"s":0.2548,"v":-0.26},{"m":0.95,"s":0.2548,"v":-0.32},{"m":1.05,"s":0.2548,"v":-0.37},{"m":1.15,"s":0.2548,"v":-0.42},{"m":1.25,"s":0.2548,"v":-0.46},{"m":1.35,"s":0.2548,"v":-0.50},{"m":1.45,"s":0.2548,"v":-0.54},{"m":1.55,"s":0.2548,"v":-0.57},{"m":1.65,"s":0.2548,"v":-0.60},{"m":1.75,"s":0.2548,"v":-0.62},{"m":1.85,"s":0.2548,"v":-0.64},{"m":1.95,"s":0.2548,"v":-0.66},
{"m":-1.95,"s":0.2943,"v":-0.65},{"m":-1.85,"s":0.2943,"v":-0.63},{"m":-1.75,"s":0.2943,"v":-0.61},{"m":-1.65,"s":0.2943,"v":-0.58},{"m":-1.55,"s":0.2943,"v":-0.56},{"m":-1.45,"s":0.2943,"v":-0.52},{"m":-1.35,"s":0.2943,"v":-0.48},{"m":-1.25,"s":0.2943,"v":-0.44},{"m":-1.15,"s":0.2943,"v":-0.39},{"m":-1.05,"s":0.2943,"v":-0.33},{"m":-0.95,"s":0.2943,"v":-0.27},{"m":-0.85,"s":0.2943,"v":-0.20},{"m":-0.75,"s":0.2943,"v":-0.13},{"m":-0.65,"s":0.2943,"v":-0.06},{"m":-0.55,"s":0.2943,"v":0.02},{"m":-0.45,"s":0.2943,"v":0.11},{"m":-0.35,"s":0.2943,"v":0.18},{"m":-0.25,"s":0.2943,"v":0.24},{"m":-0.15,"s":0.2943,"v":0.27},{"m":-0.05,"s":0.2943,"v":0.29},{"m":0.05,"s":0.2943,"v":0.29},{"m":0.15,"s":0.2943,"v":0.27},{"m":0.25,"s":0.2943,"v":0.24},{"m":0.35,"s":0.2943,"v":0.18},{"m":0.45,"s":0.2943,"v":0.11},{"m":0.55,"s":0.2943,"v":0.02},{"m":0.65,"s":0.2943,"v":-0.06},{"m":0.75,"s":0.2943,"v":-0.13},{"m":0.85,"s":0.2943,"v":-0.20},{"m":0.95,"s":0.2943,"v":-0.27},{"m":1.05,"s":0.2943,"v":-0.33},{"m":1.15,"s":0.2943,"v":-0.39},{"m":1.25,"s":0.2943,"v":-0.44},{"m":1.35,"s":0.2943,"v":-0.48},{"m":1.45,"s":0.2943,"v":-0.52},{"m":1.55,"s":0.2943,"v":-0.56},{"m":1.65,"s":0.2943,"v":-0.58},{"m":1.75,"s":0.2943,"v":-0.61},{"m":1.85,"s":0.2943,"v":-0.63},{"m":1.95,"s":0.2943,"v":-0.65},
{"m":-1.95,"s":0.3398,"v":-0.65},{"m":-1.85,"s":0.3398,"v":-0.63},{"m":-1.75,"s":0.3398,"v":-0.60},{"m":-1.65,"s":0.3398,"v":-0.57},{"m":-1.55,"s":0.3398,"v":-0.54},{"m":-1.45,"s":0.3398,"v":-0.50},{"m":-1.35,"s":0.3398,"v":-0.46},{"m":-1.25,"s":0.3398,"v":-0.41},{"m":-1.15,"s":0.3398,"v":-0.36},{"m":-1.05,"s":0.3398,"v":-0.30},{"m":-0.95,"s":0.3398,"v":-0.23},{"m":-0.85,"s":0.3398,"v":-0.15},{"m":-0.75,"s":0.3398,"v":-0.07},{"m":-0.65,"s":0.3398,"v":0.02},{"m":-0.55,"s":0.3398,"v":0.13},{"m":-0.45,"s":0.3398,"v":0.22},{"m":-0.35,"s":0.3398,"v":0.30},{"m":-0.25,"s":0.3398,"v":0.35},{"m":-0.15,"s":0.3398,"v":0.39},{"m":-0.05,"s":0.3398,"v":0.41},{"m":0.05,"s":0.3398,"v":0.41},{"m":0.15,"s":0.3398,"v":0.39},{"m":0.25,"s":0.3398,"v":0.35},{"m":0.35,"s":0.3398,"v":0.30},{"m":0.45,"s":0.3398,"v":0.22},{"m":0.55,"s":0.3398,"v":0.13},{"m":0.65,"s":0.3398,"v":0.02},{"m":0.75,"s":0.3398,"v":-0.07},{"m":0.85,"s":0.3398,"v":-0.15},{"m":0.95,"s":0.3398,"v":-0.23},{"m":1.05,"s":0.3398,"v":-0.30},{"m":1.15,"s":0.3398,"v":-0.36},{"m":1.25,"s":0.3398,"v":-0.41},{"m":1.35,"s":0.3398,"v":-0.46},{"m":1.45,"s":0.3398,"v":-0.50},{"m":1.55,"s":0.3398,"v":-0.54},{"m":1.65,"s":0.3398,"v":-0.57},{"m":1.75,"s":0.3398,"v":-0.60},{"m":1.85,"s":0.3398,"v":-0.63},{"m":1.95,"s":0.3398,"v":-0.65},
{"m":-1.95,"s":0.3924,"v":-0.64},{"m":-1.85,"s":0.3924,"v":-0.62},{"m":-1.75,"s":0.3924,"v":-0.59},{"m":-1.65,"s":0.3924,"v":-0.56},{"m":-1.55,"s":0.3924,"v":-0.53},{"m":-1.45,"s":0.3924,"v":-0.49},{"m":-1.35,"s":0.3924,"v":-0.44},{"m":-1.25,"s":0.3924,"v":-0.39},{"m":-1.15,"s":0.3924,"v":-0.33},{"m":-1.05,"s":0.3924,"v":-0.26},{"m":-0.95,"s":0.3924,"v":-0.18},{"m":-0.85,"s":0.3924,"v":-0.10},{"m":-0.75,"s":0.3924,"v":0.00},{"m":-0.65,"s":0.3924,"v":0.12},{"m":-0.55,"s":0.3924,"v":0.23},{"m":-0.45,"s":0.3924,"v":0.32},{"m":-0.35,"s":0.3924,"v":0.40},{"m":-0.25,"s":0.3924,"v":0.45},{"m":-0.15,"s":0.3924,"v":0.49},{"m":-0.05,"s":0.3924,"v":0.50},{"m":0.05,"s":0.3924,"v":0.50},{"m":0.15,"s":0.3924,"v":0.49},{"m":0.25,"s":0.3924,"v":0.45},{"m":0.35,"s":0.3924,"v":0.40},{"m":0.45,"s":0.3924,"v":0.32},{"m":0.55,"s":0.3924,"v":0.23},{"m":0.65,"s":0.3924,"v":0.12},{"m":0.75,"s":0.3924,"v":0.00},{"m":0.85,"s":0.3924,"v":-0.10},{"m":0.95,"s":0.3924,"v":-0.18},{"m":1.05,"s":0.3924,"v":-0.26},{"m":1.15,"s":0.3924,"v":-0.33},{"m":1.25,"s":0.3924,"v":-0.39},{"m":1.35,"s":0.3924,"v":-0.44},{"m":1.45,"s":0.3924,"v":-0.49},{"m":1.55,"s":0.3924,"v":-0.53},{"m":1.65,"s":0.3924,"v":-0.56},{"m":1.75,"s":0.3924,"v":-0.59},{"m":1.85,"s":0.3924,"v":-0.62},{"m":1.95,"s":0.3924,"v":-0.64},
{"m":-1.95,"s":0.4532,"v":-0.64},{"m":-1.85,"s":0.4532,"v":-0.62},{"m":-1.75,"s":0.4532,"v":-0.59},{"m":-1.65,"s":0.4532,"v":-0.56},{"m":-1.55,"s":0.4532,"v":-0.52},{"m":-1.45,"s":0.4532,"v":-0.47},{"m":-1.35,"s":0.4532,"v":-0.42},{"m":-1.25,"s":0.4532,"v":-0.37},{"m":-1.15,"s":0.4532,"v":-0.30},{"m":-1.05,"s":0.4532,"v":-0.23},{"m":-0.95,"s":0.4532,"v":-0.14},{"m":-0.85,"s":0.4532,"v":-0.05},{"m":-0.75,"s":0.4532,"v":0.07},{"m":-0.65,"s":0.4532,"v":0.20},{"m":-0.55,"s":0.4532,"v":0.31},{"m":-0.45,"s":0.4532,"v":0.40},{"m":-0.35,"s":0.4532,"v":0.47},{"m":-0.25,"s":0.4532,"v":0.53},{"m":-0.15,"s":0.4532,"v":0.56},{"m":-0.05,"s":0.4532,"v":0.58},{"m":0.05,"s":0.4532,"v":0.58},{"m":0.15,"s":0.4532,"v":0.56},{"m":0.25,"s":0.4532,"v":0.53},{"m":0.35,"s":0.4532,"v":0.47},{"m":0.45,"s":0.4532,"v":0.40},{"m":0.55,"s":0.4532,"v":0.31},{"m":0.65,"s":0.4532,"v":0.20},{"m":0.75,"s":0.4532,"v":0.07},{"m":0.85,"s":0.4532,"v":-0.05},{"m":0.95,"s":0.4532,"v":-0.14},{"m":1.05,"s":0.4532,"v":-0.23},{"m":1.15,"s":0.4532,"v":-0.30},{"m":1.25,"s":0.4532,"v":-0.37},{"m":1.35,"s":0.4532,"v":-0.42},{"m":1.45,"s":0.4532,"v":-0.47},{"m":1.55,"s":0.4532,"v":-0.52},{"m":1.65,"s":0.4532,"v":-0.56},{"m":1.75,"s":0.4532,"v":-0.59},{"m":1.85,"s":0.4532,"v":-0.62},{"m":1.95,"s":0.4532,"v":-0.64},
{"m":-1.95,"s":0.5233,"v":-0.63},{"m":-1.85,"s":0.5233,"v":-0.61},{"m":-1.75,"s":0.5233,"v":-0.58},{"m":-1.65,"s":0.5233,"v":-0.55},{"m":-1.55,"s":0.5233,"v":-0.51},{"m":-1.45,"s":0.5233,"v":-0.46},{"m":-1.35,"s":0.5233,"v":-0.41},{"m":-1.25,"s":0.5233,"v":-0.35},{"m":-1.15,"s":0.5233,"v":-0.28},{"m":-1.05,"s":0.5233,"v":-0.20},{"m":-0.95,"s":0.5233,"v":-0.11},{"m":-0.85,"s":0.5233,"v":-0.01},{"m":-0.75,"s":0.5233,"v":0.13},{"m":-0.65,"s":0.5233,"v":0.26},{"m":-0.55,"s":0.5233,"v":0.37},{"m":-0.45,"s":0.5233,"v":0.46},{"m":-0.35,"s":0.5233,"v":0.53},{"m":-0.25,"s":0.5233,"v":0.58},{"m":-0.15,"s":0.5233,"v":0.62},{"m":-0.05,"s":0.5233,"v":0.64},{"m":0.05,"s":0.5233,"v":0.64},{"m":0.15,"s":0.5233,"v":0.62},{"m":0.25,"s":0.5233,"v":0.58},{"m":0.35,"s":0.5233,"v":0.53},{"m":0.45,"s":0.5233,"v":0.46},{"m":0.55,"s":0.5233,"v":0.37},{"m":0.65,"s":0.5233,"v":0.26},{"m":0.75,"s":0.5233,"v":0.13},{"m":0.85,"s":0.5233,"v":-0.01},{"m":0.95,"s":0.5233,"v":-0.11},{"m":1.05,"s":0.5233,"v":-0.20},{"m":1.15,"s":0.5233,"v":-0.28},{"m":1.25,"s":0.5233,"v":-0.35},{"m":1.35,"s":0.5233,"v":-0.41},{"m":1.45,"s":0.5233,"v":-0.46},{"m":1.55,"s":0.5233,"v":-0.51},{"m":1.65,"s":0.5233,"v":-0.55},{"m":1.75,"s":0.5233,"v":-0.58},{"m":1.85,"s":0.5233,"v":-0.61},{"m":1.95,"s":0.5233,"v":-0.63},
{"m":-1.95,"s":0.6043,"v":-0.63},{"m":-1.85,"s":0.6043,"v":-0.61},{"m":-1.75,"s":0.6043,"v":-0.58},{"m":-1.65,"s":0.6043,"v":-0.55},{"m":-1.55,"s":0.6043,"v":-0.51},{"m":-1.45,"s":0.6043,"v":-0.46},{"m":-1.35,"s":0.6043,"v":-0.41},{"m":-1.25,"s":0.6043,"v":-0.35},{"m":-1.15,"s":0.6043,"v":-0.28},{"m":-1.05,"s":0.6043,"v":-0.20},{"m":-0.95,"s":0.6043,"v":-0.11},{"m":-0.85,"s":0.6043,"v":-0.01},{"m":-0.75,"s":0.6043,"v":0.13},{"m":-0.65,"s":0.6043,"v":0.26},{"m":-0.55,"s":0.6043,"v":0.37},{"m":-0.45,"s":0.6043,"v":0.46},{"m":-0.35,"s":0.6043,"v":0.53},{"m":-0.25,"s":0.6043,"v":0.58},{"m":-0.15,"s":0.6043,"v":0.62},{"m":-0.05,"s":0.6043,"v":0.64},{"m":0.05,"s":0.6043,"v":0.64},{"m":0.15,"s":0.6043,"v":0.62},{"m":0.25,"s":0.6043,"v":0.58},{"m":0.35,"s":0.6043,"v":0.53},{"m":0.45,"s":0.6043,"v":0.46},{"m":0.55,"s":0.6043,"v":0.37},{"m":0.65,"s":0.6043,"v":0.26},{"m":0.75,"s":0.6043,"v":0.13},{"m":0.85,"s":0.6043,"v":-0.01},{"m":0.95,"s":0.6043,"v":-0.11},{"m":1.05,"s":0.6043,"v":-0.20},{"m":1.15,"s":0.6043,"v":-0.28},{"m":1.25,"s":0.6043,"v":-0.35},{"m":1.35,"s":0.6043,"v":-0.41},{"m":1.45,"s":0.6043,"v":-0.46},{"m":1.55,"s":0.6043,"v":-0.51},{"m":1.65,"s":0.6043,"v":-0.55},{"m":1.75,"s":0.6043,"v":-0.58},{"m":1.85,"s":0.6043,"v":-0.61},{"m":1.95,"s":0.6043,"v":-0.63},
{"m":-1.95,"s":0.6978,"v":-0.64},{"m":-1.85,"s":0.6978,"v":-0.62},{"m":-1.75,"s":0.6978,"v":-0.59},{"m":-1.65,"s":0.6978,"v":-0.56},{"m":-1.55,"s":0.6978,"v":-0.53},{"m":-1.45,"s":0.6978,"v":-0.48},{"m":-1.35,"s":0.6978,"v":-0.43},{"m":-1.25,"s":0.6978,"v":-0.38},{"m":-1.15,"s":0.6978,"v":-0.32},{"m":-1.05,"s":0.6978,"v":-0.25},{"m":-0.95,"s":0.6978,"v":-0.17},{"m":-0.85,"s":0.6978,"v":-0.08},{"m":-0.75,"s":0.6978,"v":0.03},{"m":-0.65,"s":0.6978,"v":0.15},{"m":-0.55,"s":0.6978,"v":0.26},{"m":-0.45,"s":0.6978,"v":0.35},{"m":-0.35,"s":0.6978,"v":0.43},{"m":-0.25,"s":0.6978,"v":0.48},{"m":-0.15,"s":0.6978,"v":0.51},{"m":-0.05,"s":0.6978,"v":0.53},{"m":0.05,"s":0.6978,"v":0.53},{"m":0.15,"s":0.6978,"v":0.51},{"m":0.25,"s":0.6978,"v":0.48},{"m":0.35,"s":0.6978,"v":0.43},{"m":0.45,"s":0.6978,"v":0.35},{"m":0.55,"s":0.6978,"v":0.26},{"m":0.65,"s":0.6978,"v":0.15},{"m":0.75,"s":0.6978,"v":0.03},{"m":0.85,"s":0.6978,"v":-0.08},{"m":0.95,"s":0.6978,"v":-0.17},{"m":1.05,"s":0.6978,"v":-0.25},{"m":1.15,"s":0.6978,"v":-0.32},{"m":1.25,"s":0.6978,"v":-0.38},{"m":1.35,"s":0.6978,"v":-0.43},{"m":1.45,"s":0.6978,"v":-0.48},{"m":1.55,"s":0.6978,"v":-0.53},{"m":1.65,"s":0.6978,"v":-0.56},{"m":1.75,"s":0.6978,"v":-0.59},{"m":1.85,"s":0.6978,"v":-0.62},{"m":1.95,"s":0.6978,"v":-0.64},
{"m":-1.95,"s":0.8058,"v":-0.65},{"m":-1.85,"s":0.8058,"v":-0.63},{"m":-1.75,"s":0.8058,"v":-0.61},{"m":-1.65,"s":0.8058,"v":-0.58},{"m":-1.55,"s":0.8058,"v":-0.55},{"m":-1.45,"s":0.8058,"v":-0.52},{"m":-1.35,"s":0.8058,"v":-0.48},{"m":-1.25,"s":0.8058,"v":-0.43},{"m":-1.15,"s":0.8058,"v":-0.38},{"m":-1.05,"s":0.8058,"v":-0.32},{"m":-0.95,"s":0.8058,"v":-0.26},{"m":-0.85,"s":0.8058,"v":-0.19},{"m":-0.75,"s":0.8058,"v":-0.12},{"m":-0.65,"s":0.8058,"v":-0.04},{"m":-0.55,"s":0.8058,"v":0.05},{"m":-0.45,"s":0.8058,"v":0.14},{"m":-0.35,"s":0.8058,"v":0.21},{"m":-0.25,"s":0.8058,"v":0.27},{"m":-0.15,"s":0.8058,"v":0.30},{"m":-0.05,"s":0.8058,"v":0.32},{"m":0.05,"s":0.8058,"v":0.32},{"m":0.15,"s":0.8058,"v":0.30},{"m":0.25,"s":0.8058,"v":0.27},{"m":0.35,"s":0.8058,"v":0.21},{"m":0.45,"s":0.8058,"v":0.14},{"m":0.55,"s":0.8058,"v":0.05},{"m":0.65,"s":0.8058,"v":-0.04},{"m":0.75,"s":0.8058,"v":-0.12},{"m":0.85,"s":0.8058,"v":-0.19},{"m":0.95,"s":0.8058,"v":-0.26},{"m":1.05,"s":0.8058,"v":-0.32},{"m":1.15,"s":0.8058,"v":-0.38},{"m":1.25,"s":0.8058,"v":-0.43},{"m":1.35,"s":0.8058,"v":-0.48},{"m":1.45,"s":0.8058,"v":-0.52},{"m":1.55,"s":0.8058,"v":-0.55},{"m":1.65,"s":0.8058,"v":-0.58},{"m":1.75,"s":0.8058,"v":-0.61},{"m":1.85,"s":0.8058,"v":-0.63},{"m":1.95,"s":0.8058,"v":-0.65},
{"m":-1.95,"s":0.9306,"v":-0.67},{"m":-1.85,"s":0.9306,"v":-0.65},{"m":-1.75,"s":0.9306,"v":-0.63},{"m":-1.65,"s":0.9306,"v":-0.61},{"m":-1.55,"s":0.9306,"v":-0.58},{"m":-1.45,"s":0.9306,"v":-0.56},{"m":-1.35,"s":0.9306,"v":-0.53},{"m":-1.25,"s":0.9306,"v":-0.49},{"m":-1.15,"s":0.9306,"v":-0.45},{"m":-1.05,"s":0.9306,"v":-0.41},{"m":-0.95,"s":0.9306,"v":-0.36},{"m":-0.85,"s":0.9306,"v":-0.32},{"m":-0.75,"s":0.9306,"v":-0.26},{"m":-0.65,"s":0.9306,"v":-0.21},{"m":-0.55,"s":0.9306,"v":-0.16},{"m":-0.45,"s":0.9306,"v":-0.11},{"m":-0.35,"s":0.9306,"v":-0.07},{"m":-0.25,"s":0.9306,"v":-0.03},{"m":-0.15,"s":0.9306,"v":-0.01},{"m":-0.05,"s":0.9306,"v":0.01},{"m":0.05,"s":0.9306,"v":0.01},{"m":0.15,"s":0.9306,"v":-0.01},{"m":0.25,"s":0.9306,"v":-0.03},{"m":0.35,"s":0.9306,"v":-0.07},{"m":0.45,"s":0.9306,"v":-0.11},{"m":0.55,"s":0.9306,"v":-0.16},{"m":0.65,"s":0.9306,"v":-0.21},{"m":0.75,"s":0.9306,"v":-0.26},{"m":0.85,"s":0.9306,"v":-0.32},{"m":0.95,"s":0.9306,"v":-0.36},{"m":1.05,"s":0.9306,"v":-0.41},{"m":1.15,"s":0.9306,"v":-0.45},{"m":1.25,"s":0.9306,"v":-0.49},{"m":1.35,"s":0.9306,"v":-0.53},{"m":1.45,"s":0.9306,"v":-0.56},{"m":1.55,"s":0.9306,"v":-0.58},{"m":1.65,"s":0.9306,"v":-0.61},{"m":1.75,"s":0.9306,"v":-0.63},{"m":1.85,"s":0.9306,"v":-0.65},{"m":1.95,"s":0.9306,"v":-0.67},
{"m":-1.95,"s":1.075,"v":-0.67},{"m":-1.85,"s":1.075,"v":-0.66},{"m":-1.75,"s":1.075,"v":-0.65},{"m":-1.65,"s":1.075,"v":-0.63},{"m":-1.55,"s":1.075,"v":-0.61},{"m":-1.45,"s":1.075,"v":-0.58},{"m":-1.35,"s":1.075,"v":-0.56},{"m":-1.25,"s":1.075,"v":-0.53},{"m":-1.15,"s":1.075,"v":-0.50},{"m":-1.05,"s":1.075,"v":-0.47},{"m":-0.95,"s":1.075,"v":-0.43},{"m":-0.85,"s":1.075,"v":-0.39},{"m":-0.75,"s":1.075,"v":-0.35},{"m":-0.65,"s":1.075,"v":-0.32},{"m":-0.55,"s":1.075,"v":-0.28},{"m":-0.45,"s":1.075,"v":-0.25},{"m":-0.35,"s":1.075,"v":-0.21},{"m":-0.25,"s":1.075,"v":-0.19},{"m":-0.15,"s":1.075,"v":-0.17},{"m":-0.05,"s":1.075,"v":-0.16},{"m":0.05,"s":1.075,"v":-0.16},{"m":0.15,"s":1.075,"v":-0.17},{"m":0.25,"s":1.075,"v":-0.19},{"m":0.35,"s":1.075,"v":-0.21},{"m":0.45,"s":1.075,"v":-0.25},{"m":0.55,"s":1.075,"v":-0.28},{"m":0.65,"s":1.075,"v":-0.32},{"m":0.75,"s":1.075,"v":-0.35},{"m":0.85,"s":1.075,"v":-0.39},{"m":0.95,"s":1.075,"v":-0.43},{"m":1.05,"s":1.075,"v":-0.47},{"m":1.15,"s":1.075,"v":-0.50},{"m":1.25,"s":1.075,"v":-0.53},{"m":1.35,"s":1.075,"v":-0.56},{"m":1.45,"s":1.075,"v":-0.58},{"m":1.55,"s":1.075,"v":-0.61},{"m":1.65,"s":1.075,"v":-0.63},{"m":1.75,"s":1.075,"v":-0.65},{"m":1.85,"s":1.075,"v":-0.66},{"m":1.95,"s":1.075,"v":-0.67},
{"m":-1.95,"s":1.241,"v":-0.68},{"m":-1.85,"s":1.241,"v":-0.67},{"m":-1.75,"s":1.241,"v":-0.66},{"m":-1.65,"s":1.241,"v":-0.64},{"m":-1.55,"s":1.241,"v":-0.63},{"m":-1.45,"s":1.241,"v":-0.61},{"m":-1.35,"s":1.241,"v":-0.58},{"m":-1.25,"s":1.241,"v":-0.56},{"m":-1.15,"s":1.241,"v":-0.53},{"m":-1.05,"s":1.241,"v":-0.51},{"m":-0.95,"s":1.241,"v":-0.47},{"m":-0.85,"s":1.241,"v":-0.44},{"m":-0.75,"s":1.241,"v":-0.41},{"m":-0.65,"s":1.241,"v":-0.38},{"m":-0.55,"s":1.241,"v":-0.35},{"m":-0.45,"s":1.241,"v":-0.33},{"m":-0.35,"s":1.241,"v":-0.30},{"m":-0.25,"s":1.241,"v":-0.28},{"m":-0.15,"s":1.241,"v":-0.27},{"m":-0.05,"s":1.241,"v":-0.26},{"m":0.05,"s":1.241,"v":-0.26},{"m":0.15,"s":1.241,"v":-0.27},{"m":0.25,"s":1.241,"v":-0.28},{"m":0.35,"s":1.241,"v":-0.30},{"m":0.45,"s":1.241,"v":-0.33},{"m":0.55,"s":1.241,"v":-0.35},{"m":0.65,"s":1.241,"v":-0.38},{"m":0.75,"s":1.241,"v":-0.41},{"m":0.85,"s":1.241,"v":-0.44},{"m":0.95,"s":1.241,"v":-0.47},{"m":1.05,"s":1.241,"v":-0.51},{"m":1.15,"s":1.241,"v":-0.53},{"m":1.25,"s":1.241,"v":-0.56},{"m":1.35,"s":1.241,"v":-0.58},{"m":1.45,"s":1.241,"v":-0.61},{"m":1.55,"s":1.241,"v":-0.63},{"m":1.65,"s":1.241,"v":-0.64},{"m":1.75,"s":1.241,"v":-0.66},{"m":1.85,"s":1.241,"v":-0.67},{"m":1.95,"s":1.241,"v":-0.68},
{"m":-1.95,"s":1.433,"v":-0.69},{"m":-1.85,"s":1.433,"v":-0.68},{"m":-1.75,"s":1.433,"v":-0.67},{"m":-1.65,"s":1.433,"v":-0.66},{"m":-1.55,"s":1.433,"v":-0.64},{"m":-1.45,"s":1.433,"v":-0.63},{"m":-1.35,"s":1.433,"v":-0.61},{"m":-1.25,"s":1.433,"v":-0.59},{"m":-1.15,"s":1.433,"v":-0.57},{"m":-1.05,"s":1.433,"v":-0.55},{"m":-0.95,"s":1.433,"v":-0.52},{"m":-0.85,"s":1.433,"v":-0.50},{"m":-0.75,"s":1.433,"v":-0.48},{"m":-0.65,"s":1.433,"v":-0.45},{"m":-0.55,"s":1.433,"v":-0.43},{"m":-0.45,"s":1.433,"v":-0.41},{"m":-0.35,"s":1.433,"v":-0.39},{"m":-0.25,"s":1.433,"v":-0.38},{"m":-0.15,"s":1.433,"v":-0.37},{"m":-0.05,"s":1.433,"v":-0.37},{"m":0.05,"s":1.433,"v":-0.37},{"m":0.15,"s":1.433,"v":-0.37},{"m":0.25,"s":1.433,"v":-0.38},{"m":0.35,"s":1.433,"v":-0.39},{"m":0.45,"s":1.433,"v":-0.41},{"m":0.55,"s":1.433,"v":-0.43},{"m":0.65,"s":1.433,"v":-0.45},{"m":0.75,"s":1.433,"v":-0.48},{"m":0.85,"s":1.433,"v":-0.50},{"m":0.95,"s":1.433,"v":-0.52},{"m":1.05,"s":1.433,"v":-0.55},{"m":1.15,"s":1.433,"v":-0.57},{"m":1.25,"s":1.433,"v":-0.59},{"m":1.35,"s":1.433,"v":-0.61},{"m":1.45,"s":1.433,"v":-0.63},{"m":1.55,"s":1.433,"v":-0.64},{"m":1.65,"s":1.433,"v":-0.66},{"m":1.75,"s":1.433,"v":-0.67},{"m":1.85,"s":1.433,"v":-0.68},{"m":1.95,"s":1.433,"v":-0.69},
{"m":-1.95,"s":1.655,"v":-0.69},{"m":-1.85,"s":1.655,"v":-0.69},{"m":-1.75,"s":1.655,"v":-0.68},{"m":-1.65,"s":1.655,"v":-0.67},{"m":-1.55,"s":1.655,"v":-0.66},{"m":-1.45,"s":1.655,"v":-0.65},{"m":-1.35,"s":1.655,"v":-0.64},{"m":-1.25,"s":1.655,"v":-0.62},{"m":-1.15,"s":1.655,"v":-0.60},{"m":-1.05,"s":1.655,"v":-0.59},{"m":-0.95,"s":1.655,"v":-0.57},{"m":-0.85,"s":1.655,"v":-0.55},{"m":-0.75,"s":1.655,"v":-0.53},{"m":-0.65,"s":1.655,"v":-0.52},{"m":-0.55,"s":1.655,"v":-0.50},{"m":-0.45,"s":1.655,"v":-0.48},{"m":-0.35,"s":1.655,"v":-0.47},{"m":-0.25,"s":1.655,"v":-0.46},{"m":-0.15,"s":1.655,"v":-0.45},{"m":-0.05,"s":1.655,"v":-0.45},{"m":0.05,"s":1.655,"v":-0.45},{"m":0.15,"s":1.655,"v":-0.45},{"m":0.25,"s":1.655,"v":-0.46},{"m":0.35,"s":1.655,"v":-0.47},{"m":0.45,"s":1.655,"v":-0.48},{"m":0.55,"s":1.655,"v":-0.50},{"m":0.65,"s":1.655,"v":-0.52},{"m":0.75,"s":1.655,"v":-0.53},{"m":0.85,"s":1.655,"v":-0.55},{"m":0.95,"s":1.655,"v":-0.57},{"m":1.05,"s":1.655,"v":-0.59},{"m":1.15,"s":1.655,"v":-0.60},{"m":1.25,"s":1.655,"v":-0.62},{"m":1.35,"s":1.655,"v":-0.64},{"m":1.45,"s":1.655,"v":-0.65},{"m":1.55,"s":1.655,"v":-0.66},{"m":1.65,"s":1.655,"v":-0.67},{"m":1.75,"s":1.655,"v":-0.68},{"m":1.85,"s":1.655,"v":-0.69},{"m":1.95,"s":1.655,"v":-0.69},
{"m":-1.95,"s":1.911,"v":-0.70},{"m":-1.85,"s":1.911,"v":-0.69},{"m":-1.75,"s":1.911,"v":-0.69},{"m":-1.65,"s":1.911,"v":-0.68},{"m":-1.55,"s":1.911,"v":-0.68},{"m":-1.45,"s":1.911,"v":-0.67},{"m":-1.35,"s":1.911,"v":-0.66},{"m":-1.25,"s":1.911,"v":-0.65},{"m":-1.15,"s":1.911,"v":-0.64},{"m":-1.05,"s":1.911,"v":-0.62},{"m":-0.95,"s":1.911,"v":-0.61},{"m":-0.85,"s":1.911,"v":-0.60},{"m":-0.75,"s":1.911,"v":-0.58},{"m":-0.65,"s":1.911,"v":-0.57},{"m":-0.55,"s":1.911,"v":-0.56},{"m":-0.45,"s":1.911,"v":-0.55},{"m":-0.35,"s":1.911,"v":-0.54},{"m":-0.25,"s":1.911,"v":-0.54},{"m":-0.15,"s":1.911,"v":-0.53},{"m":-0.05,"s":1.911,"v":-0.53},{"m":0.05,"s":1.911,"v":-0.53},{"m":0.15,"s":1.911,"v":-0.53},{"m":0.25,"s":1.911,"v":-0.54},{"m":0.35,"s":1.911,"v":-0.54},{"m":0.45,"s":1.911,"v":-0.55},{"m":0.55,"s":1.911,"v":-0.56},{"m":0.65,"s":1.911,"v":-0.57},{"m":0.75,"s":1.911,"v":-0.58},{"m":0.85,"s":1.911,"v":-0.60},{"m":0.95,"s":1.911,"v":-0.61},{"m":1.05,"s":1.911,"v":-0.62},{"m":1.15,"s":1.911,"v":-0.64},{"m":1.25,"s":1.911,"v":-0.65},{"m":1.35,"s":1.911,"v":-0.66},{"m":1.45,"s":1.911,"v":-0.67},{"m":1.55,"s":1.911,"v":-0.68},{"m":1.65,"s":1.911,"v":-0.68},{"m":1.75,"s":1.911,"v":-0.69},{"m":1.85,"s":1.911,"v":-0.69},{"m":1.95,"s":1.911,"v":-0.70},
{"m":-1.95,"s":2.207,"v":-0.71},{"m":-1.85,"s":2.207,"v":-0.70},{"m":-1.75,"s":2.207,"v":-0.70},{"m":-1.65,"s":2.207,"v":-0.69},{"m":-1.55,"s":2.207,"v":-0.69},{"m":-1.45,"s":2.207,"v":-0.69},{"m":-1.35,"s":2.207,"v":-0.68},{"m":-1.25,"s":2.207,"v":-0.68},{"m":-1.15,"s":2.207,"v":-0.67},{"m":-1.05,"s":2.207,"v":-0.66},{"m":-0.95,"s":2.207,"v":-0.65},{"m":-0.85,"s":2.207,"v":-0.65},{"m":-0.75,"s":2.207,"v":-0.64},{"m":-0.65,"s":2.207,"v":-0.63},{"m":-0.55,"s":2.207,"v":-0.62},{"m":-0.45,"s":2.207,"v":-0.62},{"m":-0.35,"s":2.207,"v":-0.61},{"m":-0.25,"s":2.207,"v":-0.61},{"m":-0.15,"s":2.207,"v":-0.60},{"m":-0.05,"s":2.207,"v":-0.60},{"m":0.05,"s":2.207,"v":-0.60},{"m":0.15,"s":2.207,"v":-0.60},{"m":0.25,"s":2.207,"v":-0.61},{"m":0.35,"s":2.207,"v":-0.61},{"m":0.45,"s":2.207,"v":-0.62},{"m":0.55,"s":2.207,"v":-0.62},{"m":0.65,"s":2.207,"v":-0.63},{"m":0.75,"s":2.207,"v":-0.64},{"m":0.85,"s":2.207,"v":-0.65},{"m":0.95,"s":2.207,"v":-0.65},{"m":1.05,"s":2.207,"v":-0.66},{"m":1.15,"s":2.207,"v":-0.67},{"m":1.25,"s":2.207,"v":-0.68},{"m":1.35,"s":2.207,"v":-0.68},{"m":1.45,"s":2.207,"v":-0.69},{"m":1.55,"s":2.207,"v":-0.69},{"m":1.65,"s":2.207,"v":-0.69},{"m":1.75,"s":2.207,"v":-0.70},{"m":1.85,"s":2.207,"v":-0.70},{"m":1.95,"s":2.207,"v":-0.71},
{"m":-1.95,"s":2.548,"v":-0.72},{"m":-1.85,"s":2.548,"v":-0.71},{"m":-1.75,"s":2.548,"v":-0.71},{"m":-1.65,"s":2.548,"v":-0.71},{"m":-1.55,"s":2.548,"v":-0.70},{"m":-1.45,"s":2.548,"v":-0.70},{"m":-1.35,"s":2.548,"v":-0.70},{"m":-1.25,"s":2.548,"v":-0.69},{"m":-1.15,"s":2.548,"v":-0.69},{"m":-1.05,"s":2.548,"v":-0.69},{"m":-0.95,"s":2.548,"v":-0.68},{"m":-0.85,"s":2.548,"v":-0.68},{"m":-0.75,"s":2.548,"v":-0.68},{"m":-0.65,"s":2.548,"v":-0.67},{"m":-0.55,"s":2.548,"v":-0.67},{"m":-0.45,"s":2.548,"v":-0.67},{"m":-0.35,"s":2.548,"v":-0.66},{"m":-0.25,"s":2.548,"v":-0.66},{"m":-0.15,"s":2.548,"v":-0.66},{"m":-0.05,"s":2.548,"v":-0.66},{"m":0.05,"s":2.548,"v":-0.66},{"m":0.15,"s":2.548,"v":-0.66},{"m":0.25,"s":2.548,"v":-0.66},{"m":0.35,"s":2.548,"v":-0.66},{"m":0.45,"s":2.548,"v":-0.67},{"m":0.55,"s":2.548,"v":-0.67},{"m":0.65,"s":2.548,"v":-0.67},{"m":0.75,"s":2.548,"v":-0.68},{"m":0.85,"s":2.548,"v":-0.68},{"m":0.95,"s":2.548,"v":-0.68},{"m":1.05,"s":2.548,"v":-0.69},{"m":1.15,"s":2.548,"v":-0.69},{"m":1.25,"s":2.548,"v":-0.69},{"m":1.35,"s":2.548,"v":-0.70},{"m":1.45,"s":2.548,"v":-0.70},{"m":1.55,"s":2.548,"v":-0.70},{"m":1.65,"s":2.548,"v":-0.71},{"m":1.75,"s":2.548,"v":-0.71},{"m":1.85,"s":2.548,"v":-0.71},{"m":1.95,"s":2.548,"v":-0.72},
{"m":-1.95,"s":2.943,"v":-0.75},{"m":-1.85,"s":2.943,"v":-0.74},{"m":-1.75,"s":2.943,"v":-0.74},{"m":-1.65,"s":2.943,"v":-0.74},{"m":-1.55,"s":2.943,"v":-0.74},{"m":-1.45,"s":2.943,"v":-0.73},{"m":-1.35,"s":2.943,"v":-0.73},{"m":-1.25,"s":2.943,"v":-0.73},{"m":-1.15,"s":2.943,"v":-0.73},{"m":-1.05,"s":2.943,"v":-0.73},{"m":-0.95,"s":2.943,"v":-0.72},{"m":-0.85,"s":2.943,"v":-0.72},{"m":-0.75,"s":2.943,"v":-0.72},{"m":-0.65,"s":2.943,"v":-0.72},{"m":-0.55,"s":2.943,"v":-0.72},{"m":-0.45,"s":2.943,"v":-0.72},{"m":-0.35,"s":2.943,"v":-0.72},{"m":-0.25,"s":2.943,"v":-0.72},{"m":-0.15,"s":2.943,"v":-0.72},{"m":-0.05,"s":2.943,"v":-0.72},{"m":0.05,"s":2.943,"v":-0.72},{"m":0.15,"s":2.943,"v":-0.72},{"m":0.25,"s":2.943,"v":-0.72},{"m":0.35,"s":2.943,"v":-0.72},{"m":0.45,"s":2.943,"v":-0.72},{"m":0.55,"s":2.943,"v":-0.72},{"m":0.65,"s":2.943,"v":-0.72},{"m":0.75,"s":2.943,"v":-0.72},{"m":0.85,"s":2.943,"v":-0.72},{"m":0.95,"s":2.943,"v":-0.72},{"m":1.05,"s":2.943,"v":-0.73},{"m":1.15,"s":2.943,"v":-0.73},{"m":1.25,"s":2.943,"v":-0.73},{"m":1.35,"s":2.943,"v":-0.73},{"m":1.45,"s":2.943,"v":-0.73},{"m":1.55,"s":2.943,"v":-0.74},{"m":1.65,"s":2.943,"v":-0.74},{"m":1.75,"s":2.943,"v":-0.74},{"m":1.85,"s":2.943,"v":-0.74},{"m":1.95,"s":2.943,"v":-0.75}
]
},
"layer": [
{
"data": {"name": "grid"},
"mark": {"type": "rect", "width": 24, "height": 24, "clip": true},
"encoding": {
"x": {"field": "m", "type": "quantitative", "scale": {"domain": [-2, 2], "nice": false, "zero": false},
 "axis": {"orient": "bottom", "values": [-2, -1, 0, 1, 2], "title": "μ", "domain": false, "grid": false, "ticks": true, "tickSize": 14, "tickWidth": 3, "tickColor": "black", "labelFont": "Liberation Serif", "labelFontSize": 44, "labelColor": "black", "labelPadding": 12, "labelFlush": false, "labelOverlap": false, "titleFont": "Liberation Serif", "titleFontStyle": "italic", "titleFontWeight": "normal", "titleFontSize": 56, "titleColor": "black", "titlePadding": 14, "zindex": 1}},
"y": {"field": "s", "type": "quantitative", "scale": {"type": "log", "domain": [0.01, 3], "nice": false},
 "axis": {"orient": "left", "values": [0.01, 0.1, 1], "title": "σ", "domain": false, "grid": false, "tickSize": 14, "tickWidth": 3, "tickColor": "black", "labelExpr": "'10'", "labelFont": "Liberation Serif", "labelFontSize": 44, "labelColor": "black", "labelPadding": {"condition": {"test": "datum.value == 1", "value": 38}, "value": 66}, "labelBaseline": "middle", "labelFlush": false, "labelOverlap": false, "titleFont": "Liberation Serif", "titleFontStyle": "italic", "titleFontWeight": "normal", "titleFontSize": 56, "titleColor": "black", "titlePadding": 13, "zindex": 1}},
"color": {"field": "v", "type": "quantitative", "legend": null,
 "scale": {"domain": [-1, -0.8, -0.6, -0.4, -0.2, 0, 0.2, 0.4, 0.6, 0.8, 1], "range": ["#053061", "#2166ac", "#4393c3", "#92c5de", "#d1e5f0", "#f7f7f7", "#fddbc7", "#f4a582", "#d6604d", "#b2182b", "#67001f"], "interpolate": "rgb"}}
}
},
{
"data": {"values": [{}]},
"mark": {"type": "rect", "fill": null, "stroke": "black", "strokeWidth": 3},
"encoding": {
"x": {"datum": -2, "type": "quantitative", "scale": {"domain": [-2, 2], "nice": false, "zero": false}, "axis": null},
"x2": {"datum": 2},
"y": {"datum": 0.01, "type": "quantitative", "scale": {"type": "log", "domain": [0.01, 3], "nice": false}, "axis": null},
"y2": {"datum": 3}
}
},
{
"data": {"name": "contour"},
"mark": {"type": "line", "color": "black", "strokeWidth": 1.4, "interpolate": "linear"},
"encoding": {
"x": {"field": "m", "type": "quantitative", "scale": {"domain": [-2, 2], "nice": false, "zero": false}, "axis": null},
"y": {"field": "s", "type": "quantitative", "scale": {"type": "log", "domain": [0.01, 3], "nice": false},
 "axis": {"orient": "left", "values": [0.01, 0.1, 1], "title": null, "domain": false, "grid": false, "ticks": false, "tickSize": 0, "labelExpr": "datum.value == 1 ? '0' : (datum.value == 0.1 ? '\u22121' : '\u22122')", "labelFont": "Liberation Serif", "labelFontSize": 27, "labelColor": "black", "labelPadding": 36, "labelBaseline": "middle", "labelOffset": -10, "labelFlush": false, "labelOverlap": false, "zindex": 1}},
"order": {"field": "o", "type": "quantitative"}
}
},
{
"data": {"name": "markers"},
"mark": {"type": "point", "filled": true, "color": "#808080", "opacity": 1},
"encoding": {
"x": {"field": "m", "type": "quantitative", "scale": {"domain": [-2, 2], "nice": false, "zero": false}, "axis": null},
"y": {"field": "s", "type": "quantitative", "scale": {"type": "log", "domain": [0.01, 3], "nice": false},
 "axis": {"orient": "left", "values": [0.02, 0.03, 0.04, 0.05, 0.06, 0.07, 0.08, 0.09, 0.2, 0.3, 0.4, 0.5, 0.6, 0.7, 0.8, 0.9, 2, 3], "title": null, "domain": false, "grid": false, "labels": false, "tickSize": 8, "tickWidth": 2.3, "tickColor": "black", "zindex": 1}},
"shape": {"field": "marker", "type": "nominal", "legend": null, "scale": {"domain": ["star", "square", "circle"], "range": ["M0,-1L0.2245,-0.309L0.9511,-0.309L0.3633,0.118L0.5878,0.809L0,0.382L-0.5878,0.809L-0.3633,0.118L-0.9511,-0.309L-0.2245,-0.309Z", "square", "circle"]}},
"size": {"field": "marker", "type": "nominal", "legend": null, "scale": {"domain": ["star", "square", "circle"], "range": [1350, 820, 820]}}
}
}
]
}
